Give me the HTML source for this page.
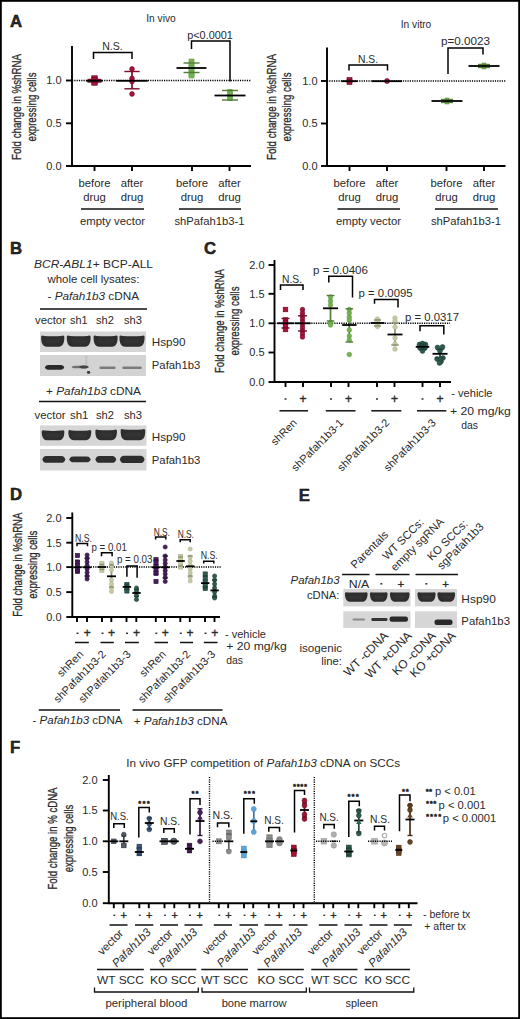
<!DOCTYPE html>
<html><head><meta charset="utf-8"><style>
html,body{margin:0;padding:0;background:#fff;}
body{width:520px;height:1019px;overflow:hidden;}
svg{display:block;}
text{font-family:"Liberation Sans", sans-serif;fill:#2a2a2a;}
text[font-weight="bold"]{stroke:#000;stroke-width:0.45;}
</style></head><body>
<svg width="520" height="1019" viewBox="0 0 520 1019">
<defs><filter id="bl" x="-20%" y="-50%" width="140%" height="200%"><feGaussianBlur stdDeviation="0.6"/></filter><filter id="bl2" x="-20%" y="-50%" width="140%" height="200%"><feGaussianBlur stdDeviation="1"/></filter></defs>
<rect x="0" y="0" width="520" height="1019" fill="#fff"/>
<text x="10.00" y="27.00" font-size="16.8" font-weight="bold" fill="#000">A</text>
<line x1="72.00" y1="46.00" x2="72.00" y2="166.95" stroke="#000" stroke-width="1.9"/>
<line x1="66.00" y1="80.50" x2="72.00" y2="80.50" stroke="#000" stroke-width="1.9"/>
<text x="61.50" y="84.40" font-size="11" text-anchor="end">1.0</text>
<line x1="66.00" y1="123.30" x2="72.00" y2="123.30" stroke="#000" stroke-width="1.9"/>
<text x="61.50" y="127.20" font-size="11" text-anchor="end">0.5</text>
<line x1="66.00" y1="166.00" x2="72.00" y2="166.00" stroke="#000" stroke-width="1.9"/>
<text x="61.50" y="169.90" font-size="11" text-anchor="end">0.0</text>
<line x1="72.00" y1="166.00" x2="251.00" y2="166.00" stroke="#000" stroke-width="1.9"/>
<line x1="94.50" y1="166.00" x2="94.50" y2="171.00" stroke="#000" stroke-width="1.9"/>
<line x1="132.00" y1="166.00" x2="132.00" y2="171.00" stroke="#000" stroke-width="1.9"/>
<line x1="192.00" y1="166.00" x2="192.00" y2="171.00" stroke="#000" stroke-width="1.9"/>
<line x1="229.50" y1="166.00" x2="229.50" y2="171.00" stroke="#000" stroke-width="1.9"/>
<text x="21.0" y="107" font-size="13" text-anchor="middle" textLength="106" lengthAdjust="spacingAndGlyphs" transform="rotate(-90 21.0 107)" stroke="#2a2a2a" stroke-width="0.3">Fold change in %shRNA</text>
<text x="35.8" y="107" font-size="13" text-anchor="middle" textLength="69" lengthAdjust="spacingAndGlyphs" transform="rotate(-90 35.8 107)" stroke="#2a2a2a" stroke-width="0.3">expressing cells</text>
<text x="161.00" y="21.50" font-size="10" text-anchor="middle" textLength="29.50" lengthAdjust="spacingAndGlyphs">In vivo</text>
<line x1="72.00" y1="80.50" x2="251.00" y2="80.50" stroke="#000" stroke-width="1.5" stroke-dasharray="1.2 1.1"/>
<path d="M93.50 59.00 V52.50 H132.00 V59.00" fill="none" stroke="#000" stroke-width="1.5"/>
<text x="112.50" y="49.50" font-size="10.5" text-anchor="middle" textLength="20.50" lengthAdjust="spacingAndGlyphs">N.S.</text>
<path d="M191.50 49.00 V41.00 H230.00 V81.50" fill="none" stroke="#000" stroke-width="1.5"/>
<text x="210.00" y="39.00" font-size="10.8" text-anchor="middle" textLength="45.50" lengthAdjust="spacingAndGlyphs">p&lt;0.0001</text>
<line x1="94.50" y1="79.50" x2="94.50" y2="82.00" stroke="#7b0c2a" stroke-width="1.7"/>
<rect x="91.75" y="75.75" width="5.50" height="5.50" fill="#b0123c" stroke="#600921" stroke-width="0.6"/>
<rect x="91.75" y="77.75" width="5.50" height="5.50" fill="#b0123c" stroke="#600921" stroke-width="0.6"/>
<rect x="91.75" y="79.75" width="5.50" height="5.50" fill="#b0123c" stroke="#600921" stroke-width="0.6"/>
<line x1="87.50" y1="79.50" x2="101.50" y2="79.50" stroke="#7b0c2a" stroke-width="1.4"/>
<line x1="87.50" y1="82.00" x2="101.50" y2="82.00" stroke="#7b0c2a" stroke-width="1.4"/>
<line x1="86.30" y1="80.80" x2="102.70" y2="80.80" stroke="#000" stroke-width="1.8"/>
<line x1="132.00" y1="71.50" x2="132.00" y2="88.80" stroke="#7b0c2a" stroke-width="1.7"/>
<circle cx="132.00" cy="69.00" r="2.40" fill="#b0123c" stroke="#600921" stroke-width="0.6"/>
<circle cx="132.00" cy="78.50" r="2.40" fill="#b0123c" stroke="#600921" stroke-width="0.6"/>
<circle cx="132.00" cy="81.50" r="2.40" fill="#b0123c" stroke="#600921" stroke-width="0.6"/>
<circle cx="132.00" cy="94.00" r="2.40" fill="#b0123c" stroke="#600921" stroke-width="0.6"/>
<line x1="124.40" y1="71.50" x2="139.60" y2="71.50" stroke="#7b0c2a" stroke-width="1.4"/>
<line x1="124.40" y1="88.80" x2="139.60" y2="88.80" stroke="#7b0c2a" stroke-width="1.4"/>
<line x1="116.20" y1="80.80" x2="147.80" y2="80.80" stroke="#000" stroke-width="1.8"/>
<line x1="191.50" y1="63.00" x2="191.50" y2="72.50" stroke="#517d38" stroke-width="1.7"/>
<rect x="189.00" y="59.00" width="5.00" height="5.00" fill="#74b450" stroke="#629944" stroke-width="0.6"/>
<rect x="189.00" y="62.00" width="5.00" height="5.00" fill="#74b450" stroke="#629944" stroke-width="0.6"/>
<rect x="189.00" y="65.00" width="5.00" height="5.00" fill="#74b450" stroke="#629944" stroke-width="0.6"/>
<rect x="189.00" y="68.00" width="5.00" height="5.00" fill="#74b450" stroke="#629944" stroke-width="0.6"/>
<rect x="189.00" y="71.00" width="5.00" height="5.00" fill="#74b450" stroke="#629944" stroke-width="0.6"/>
<rect x="189.00" y="73.00" width="5.00" height="5.00" fill="#74b450" stroke="#629944" stroke-width="0.6"/>
<line x1="183.50" y1="63.00" x2="199.50" y2="63.00" stroke="#517d38" stroke-width="1.4"/>
<line x1="183.50" y1="72.50" x2="199.50" y2="72.50" stroke="#517d38" stroke-width="1.4"/>
<line x1="176.50" y1="68.00" x2="206.50" y2="68.00" stroke="#000" stroke-width="1.8"/>
<line x1="230.00" y1="90.50" x2="230.00" y2="100.00" stroke="#517d38" stroke-width="1.7"/>
<rect x="227.80" y="89.30" width="4.40" height="4.40" fill="#74b450" stroke="#629944" stroke-width="0.6"/>
<rect x="227.80" y="91.80" width="4.40" height="4.40" fill="#74b450" stroke="#629944" stroke-width="0.6"/>
<rect x="227.80" y="94.30" width="4.40" height="4.40" fill="#74b450" stroke="#629944" stroke-width="0.6"/>
<rect x="227.80" y="96.30" width="4.40" height="4.40" fill="#74b450" stroke="#629944" stroke-width="0.6"/>
<line x1="222.00" y1="90.50" x2="238.00" y2="90.50" stroke="#517d38" stroke-width="1.4"/>
<line x1="222.00" y1="100.00" x2="238.00" y2="100.00" stroke="#517d38" stroke-width="1.4"/>
<line x1="214.50" y1="95.50" x2="245.50" y2="95.50" stroke="#000" stroke-width="1.8"/>
<text x="94.50" y="187.00" font-size="11.3" text-anchor="middle">before</text>
<text x="94.50" y="200.80" font-size="11.3" text-anchor="middle">drug</text>
<text x="132.00" y="187.00" font-size="11.3" text-anchor="middle">after</text>
<text x="132.00" y="200.80" font-size="11.3" text-anchor="middle">drug</text>
<text x="192.00" y="187.00" font-size="11.3" text-anchor="middle">before</text>
<text x="192.00" y="200.80" font-size="11.3" text-anchor="middle">drug</text>
<text x="229.50" y="187.00" font-size="11.3" text-anchor="middle">after</text>
<text x="229.50" y="200.80" font-size="11.3" text-anchor="middle">drug</text>
<line x1="81.00" y1="209.00" x2="144.00" y2="209.00" stroke="#111" stroke-width="1.5"/>
<line x1="179.00" y1="209.00" x2="241.00" y2="209.00" stroke="#111" stroke-width="1.5"/>
<text x="112.50" y="224.50" font-size="11.3" text-anchor="middle" textLength="65.00" lengthAdjust="spacingAndGlyphs">empty vector</text>
<text x="209.50" y="224.50" font-size="11.3" text-anchor="middle" textLength="70.00" lengthAdjust="spacingAndGlyphs">shPafah1b3-1</text>
<line x1="327.00" y1="47.50" x2="327.00" y2="166.95" stroke="#000" stroke-width="1.9"/>
<line x1="321.00" y1="81.00" x2="327.00" y2="81.00" stroke="#000" stroke-width="1.9"/>
<text x="317.50" y="84.90" font-size="11" text-anchor="end">1.0</text>
<line x1="321.00" y1="123.50" x2="327.00" y2="123.50" stroke="#000" stroke-width="1.9"/>
<text x="317.50" y="127.40" font-size="11" text-anchor="end">0.5</text>
<line x1="321.00" y1="166.00" x2="327.00" y2="166.00" stroke="#000" stroke-width="1.9"/>
<text x="317.50" y="169.90" font-size="11" text-anchor="end">0.0</text>
<line x1="327.00" y1="166.00" x2="505.50" y2="166.00" stroke="#000" stroke-width="1.9"/>
<line x1="349.50" y1="166.00" x2="349.50" y2="171.00" stroke="#000" stroke-width="1.9"/>
<line x1="387.00" y1="166.00" x2="387.00" y2="171.00" stroke="#000" stroke-width="1.9"/>
<line x1="446.50" y1="166.00" x2="446.50" y2="171.00" stroke="#000" stroke-width="1.9"/>
<line x1="484.00" y1="166.00" x2="484.00" y2="171.00" stroke="#000" stroke-width="1.9"/>
<text x="276.0" y="107" font-size="13" text-anchor="middle" textLength="106" lengthAdjust="spacingAndGlyphs" transform="rotate(-90 276.0 107)" stroke="#2a2a2a" stroke-width="0.3">Fold change in %shRNA</text>
<text x="290.8" y="107" font-size="13" text-anchor="middle" textLength="69" lengthAdjust="spacingAndGlyphs" transform="rotate(-90 290.8 107)" stroke="#2a2a2a" stroke-width="0.3">expressing cells</text>
<text x="416.00" y="27.50" font-size="10" text-anchor="middle" textLength="30.50" lengthAdjust="spacingAndGlyphs">In vitro</text>
<line x1="327.00" y1="81.00" x2="506.00" y2="81.00" stroke="#000" stroke-width="1.5" stroke-dasharray="1.2 1.1"/>
<path d="M349.00 70.50 V65.00 H387.50 V70.50" fill="none" stroke="#000" stroke-width="1.5"/>
<text x="368.00" y="62.50" font-size="10.5" text-anchor="middle" textLength="20.00" lengthAdjust="spacingAndGlyphs">N.S.</text>
<path d="M448.00 74.00 V48.00 H483.00 V54.50" fill="none" stroke="#000" stroke-width="1.5"/>
<text x="465.50" y="45.00" font-size="10.8" text-anchor="middle" textLength="49.00" lengthAdjust="spacingAndGlyphs">p=0.0023</text>
<rect x="347.00" y="77.50" width="5.00" height="5.00" fill="#b0123c" stroke="#600921" stroke-width="0.6"/>
<rect x="347.00" y="79.50" width="5.00" height="5.00" fill="#b0123c" stroke="#600921" stroke-width="0.6"/>
<line x1="341.50" y1="81.20" x2="357.50" y2="81.20" stroke="#000" stroke-width="1.8"/>
<circle cx="387.00" cy="81.00" r="2.50" fill="#b0123c" stroke="#600921" stroke-width="0.6"/>
<line x1="372.00" y1="81.20" x2="402.00" y2="81.20" stroke="#000" stroke-width="1.8"/>
<line x1="447.00" y1="99.50" x2="447.00" y2="102.50" stroke="#517d38" stroke-width="1.7"/>
<rect x="445.00" y="98.00" width="4.00" height="4.00" fill="#74b450" stroke="#629944" stroke-width="0.6"/>
<rect x="445.00" y="100.00" width="4.00" height="4.00" fill="#74b450" stroke="#629944" stroke-width="0.6"/>
<line x1="441.00" y1="99.50" x2="453.00" y2="99.50" stroke="#517d38" stroke-width="1.4"/>
<line x1="441.00" y1="102.50" x2="453.00" y2="102.50" stroke="#517d38" stroke-width="1.4"/>
<line x1="431.50" y1="101.00" x2="462.50" y2="101.00" stroke="#000" stroke-width="1.8"/>
<line x1="484.00" y1="64.50" x2="484.00" y2="67.50" stroke="#517d38" stroke-width="1.7"/>
<rect x="482.00" y="63.00" width="4.00" height="4.00" fill="#74b450" stroke="#629944" stroke-width="0.6"/>
<rect x="482.00" y="65.00" width="4.00" height="4.00" fill="#74b450" stroke="#629944" stroke-width="0.6"/>
<line x1="478.00" y1="64.50" x2="490.00" y2="64.50" stroke="#517d38" stroke-width="1.4"/>
<line x1="478.00" y1="67.50" x2="490.00" y2="67.50" stroke="#517d38" stroke-width="1.4"/>
<line x1="468.50" y1="66.00" x2="499.50" y2="66.00" stroke="#000" stroke-width="1.8"/>
<text x="349.50" y="187.00" font-size="11.3" text-anchor="middle">before</text>
<text x="349.50" y="200.80" font-size="11.3" text-anchor="middle">drug</text>
<text x="387.00" y="187.00" font-size="11.3" text-anchor="middle">after</text>
<text x="387.00" y="200.80" font-size="11.3" text-anchor="middle">drug</text>
<text x="446.50" y="187.00" font-size="11.3" text-anchor="middle">before</text>
<text x="446.50" y="200.80" font-size="11.3" text-anchor="middle">drug</text>
<text x="484.00" y="187.00" font-size="11.3" text-anchor="middle">after</text>
<text x="484.00" y="200.80" font-size="11.3" text-anchor="middle">drug</text>
<line x1="337.50" y1="209.00" x2="400.00" y2="209.00" stroke="#111" stroke-width="1.5"/>
<line x1="435.00" y1="209.00" x2="498.00" y2="209.00" stroke="#111" stroke-width="1.5"/>
<text x="368.50" y="224.50" font-size="11.3" text-anchor="middle" textLength="65.00" lengthAdjust="spacingAndGlyphs">empty vector</text>
<text x="466.00" y="224.50" font-size="11.3" text-anchor="middle" textLength="70.00" lengthAdjust="spacingAndGlyphs">shPafah1b3-1</text>
<text x="10.00" y="254.00" font-size="16.8" font-weight="bold" fill="#000">B</text>
<text x="34" y="268.3" font-size="11.6" textLength="119" lengthAdjust="spacingAndGlyphs"><tspan font-style="italic">BCR-ABL1</tspan>+ BCP-ALL</text>
<text x="93.50" y="283.30" font-size="11.6" text-anchor="middle" textLength="92.00" lengthAdjust="spacingAndGlyphs">whole cell lysates:</text>
<text x="47.5" y="300.3" font-size="11.6" textLength="91.5" lengthAdjust="spacingAndGlyphs">- <tspan font-style="italic">Pafah1b3</tspan> cDNA</text>
<line x1="40.00" y1="309.00" x2="147.00" y2="309.00" stroke="#111" stroke-width="1.5"/>
<text x="50.50" y="324.30" font-size="11.6" text-anchor="middle" textLength="31.00" lengthAdjust="spacingAndGlyphs">vector</text>
<text x="78.80" y="324.30" font-size="11.6" text-anchor="middle" textLength="17.50" lengthAdjust="spacingAndGlyphs">sh1</text>
<text x="105.00" y="324.30" font-size="11.6" text-anchor="middle" textLength="18.00" lengthAdjust="spacingAndGlyphs">sh2</text>
<text x="133.00" y="324.30" font-size="11.6" text-anchor="middle" textLength="18.00" lengthAdjust="spacingAndGlyphs">sh3</text>
<text x="46" y="395.3" font-size="11.6" textLength="95" lengthAdjust="spacingAndGlyphs">+ <tspan font-style="italic">Pafah1b3</tspan> cDNA</text>
<line x1="39.00" y1="401.50" x2="146.00" y2="401.50" stroke="#111" stroke-width="1.5"/>
<text x="50.10" y="418.80" font-size="11.6" text-anchor="middle" textLength="31.00" lengthAdjust="spacingAndGlyphs">vector</text>
<text x="79.20" y="418.80" font-size="11.6" text-anchor="middle" textLength="18.50" lengthAdjust="spacingAndGlyphs">sh1</text>
<text x="105.00" y="418.80" font-size="11.6" text-anchor="middle" textLength="18.00" lengthAdjust="spacingAndGlyphs">sh2</text>
<text x="133.00" y="418.80" font-size="11.6" text-anchor="middle" textLength="18.00" lengthAdjust="spacingAndGlyphs">sh3</text>
<rect x="40.00" y="331.50" width="106.00" height="20.50" fill="#d6d6d6" />
<path d="M41.20 336.30 Q42.00 335.10 44.20 335.90 Q52.75 336.78 61.30 335.90 Q63.50 335.10 64.30 336.30 C64.70 343.20 62.50 346.70 58.80 346.70 L46.70 346.70 C43.00 346.70 40.80 343.20 41.20 336.30 Z" fill="#2e2e2e" filter="url(#bl)"/>
<rect x="45.20" y="339.42" width="15.10" height="3.36" rx="1.5" fill="#4a4a4a" opacity="0.3" filter="url(#bl2)"/>
<path d="M66.80 336.30 Q67.60 335.10 69.80 335.90 Q78.70 336.78 87.60 335.90 Q89.80 335.10 90.60 336.30 C91.00 343.20 88.80 346.70 85.10 346.70 L72.30 346.70 C68.60 346.70 66.40 343.20 66.80 336.30 Z" fill="#2e2e2e" filter="url(#bl)"/>
<rect x="70.80" y="339.42" width="15.80" height="3.36" rx="1.5" fill="#4a4a4a" opacity="0.3" filter="url(#bl2)"/>
<path d="M93.60 336.30 Q94.40 335.10 96.60 335.90 Q105.60 336.78 114.60 335.90 Q116.80 335.10 117.60 336.30 C118.00 343.20 115.80 346.70 112.10 346.70 L99.10 346.70 C95.40 346.70 93.20 343.20 93.60 336.30 Z" fill="#2e2e2e" filter="url(#bl)"/>
<rect x="97.60" y="339.42" width="16.00" height="3.36" rx="1.5" fill="#4a4a4a" opacity="0.3" filter="url(#bl2)"/>
<path d="M119.50 336.30 Q120.30 335.10 122.50 335.90 Q132.00 336.78 141.50 335.90 Q143.70 335.10 144.50 336.30 C144.90 343.20 142.70 346.70 139.00 346.70 L125.00 346.70 C121.30 346.70 119.10 343.20 119.50 336.30 Z" fill="#2e2e2e" filter="url(#bl)"/>
<rect x="123.50" y="339.42" width="17.00" height="3.36" rx="1.5" fill="#4a4a4a" opacity="0.3" filter="url(#bl2)"/>
<rect x="40.00" y="355.00" width="106.00" height="21.00" fill="#d3d3d3" />
<path d="M44.80 367.40 C45.80 365.10 47.80 365.10 49.80 365.10 L59.30 365.10 C61.30 365.10 63.30 365.10 64.30 367.40 C63.30 369.70 61.30 369.70 59.30 369.70 L49.80 369.70 C47.80 369.70 45.80 369.70 44.80 367.40 Z" fill="#2a2a2a" opacity="1" filter="url(#bl)"/>
<rect x="85.2" y="355.5" width="2.2" height="10" fill="#b8b8b8" opacity="0.6" filter="url(#bl)"/>
<path d="M71.60 367.00 C72.60 365.70 74.60 365.70 76.60 365.70 L83.00 365.70 C85.00 365.70 87.00 365.70 88.00 367.00 C87.00 368.30 85.00 368.30 83.00 368.30 L76.60 368.30 C74.60 368.30 72.60 368.30 71.60 367.00 Z" fill="#707070" opacity="1" filter="url(#bl)"/>
<path d="M79.00 367.00 C80.00 365.50 82.00 365.50 84.00 365.50 L84.00 365.50 C86.00 365.50 88.00 365.50 89.00 367.00 C88.00 368.50 86.00 368.50 84.00 368.50 L84.00 368.50 C82.00 368.50 80.00 368.50 79.00 367.00 Z" fill="#444" opacity="1" filter="url(#bl)"/>
<ellipse cx="88.6" cy="372.4" rx="1.7" ry="1.3" fill="#333" filter="url(#bl)"/>
<rect x="99.40" y="366.60" width="16.20" height="2.40" rx="1.09" fill="#666" opacity="0.8" filter="url(#bl)"/>
<rect x="122.30" y="366.60" width="19.50" height="2.40" rx="1.09" fill="#666" opacity="0.8" filter="url(#bl)"/>
<rect x="40.00" y="425.40" width="106.50" height="20.40" fill="#d6d6d6" />
<path d="M41.80 431.00 Q42.60 429.80 44.80 430.60 Q53.05 431.48 61.30 430.60 Q63.50 429.80 64.30 431.00 C64.70 436.80 62.50 440.30 58.80 440.30 L47.30 440.30 C43.60 440.30 41.40 436.80 41.80 431.00 Z" fill="#2e2e2e" filter="url(#bl)"/>
<rect x="45.80" y="433.74" width="14.50" height="3.03" rx="1.5" fill="#4a4a4a" opacity="0.3" filter="url(#bl2)"/>
<path d="M68.40 430.80 Q69.20 429.60 71.40 430.40 Q79.80 431.28 88.20 430.40 Q90.40 429.60 91.20 430.80 C91.60 436.80 89.40 440.30 85.70 440.30 L73.90 440.30 C70.20 440.30 68.00 436.80 68.40 430.80 Z" fill="#2e2e2e" filter="url(#bl)"/>
<rect x="72.40" y="433.61" width="14.80" height="3.09" rx="1.5" fill="#4a4a4a" opacity="0.3" filter="url(#bl2)"/>
<path d="M95.40 430.30 Q96.20 429.10 98.40 429.90 Q106.15 430.78 113.90 429.90 Q116.10 429.10 116.90 430.30 C117.30 436.80 115.10 440.30 111.40 440.30 L100.90 440.30 C97.20 440.30 95.00 436.80 95.40 430.30 Z" fill="#2e2e2e" filter="url(#bl)"/>
<rect x="99.40" y="433.28" width="13.50" height="3.24" rx="1.5" fill="#4a4a4a" opacity="0.3" filter="url(#bl2)"/>
<path d="M120.70 429.80 Q121.50 428.60 123.70 429.40 Q132.95 430.28 142.20 429.40 Q144.40 428.60 145.20 429.80 C145.60 436.80 143.40 440.30 139.70 440.30 L126.20 440.30 C122.50 440.30 120.30 436.80 120.70 429.80 Z" fill="#2e2e2e" filter="url(#bl)"/>
<rect x="124.70" y="432.95" width="16.50" height="3.39" rx="1.5" fill="#4a4a4a" opacity="0.3" filter="url(#bl2)"/>
<rect x="40.00" y="449.00" width="106.50" height="21.50" fill="#d6d6d6" />
<path d="M42.40 459.40 C43.40 456.00 45.40 456.00 47.40 456.00 L60.30 456.00 C62.30 456.00 64.30 456.00 65.30 459.40 C64.30 462.80 62.30 462.80 60.30 462.80 L47.40 462.80 C45.40 462.80 43.40 462.80 42.40 459.40 Z" fill="#2f2f2f" opacity="1" filter="url(#bl)"/>
<path d="M69.30 459.40 C70.30 456.60 72.30 456.60 74.30 456.60 L85.60 456.60 C87.60 456.60 89.60 456.60 90.60 459.40 C89.60 462.20 87.60 462.20 85.60 462.20 L74.30 462.20 C72.30 462.20 70.30 462.20 69.30 459.40 Z" fill="#2f2f2f" opacity="1" filter="url(#bl)"/>
<path d="M95.40 459.40 C96.40 456.10 98.40 456.10 100.40 456.10 L111.20 456.10 C113.20 456.10 115.20 456.10 116.20 459.40 C115.20 462.70 113.20 462.70 111.20 462.70 L100.40 462.70 C98.40 462.70 96.40 462.70 95.40 459.40 Z" fill="#2f2f2f" opacity="1" filter="url(#bl)"/>
<path d="M119.90 459.40 C120.90 455.80 122.90 455.80 124.90 455.80 L139.50 455.80 C141.50 455.80 143.50 455.80 144.50 459.40 C143.50 463.00 141.50 463.00 139.50 463.00 L124.90 463.00 C122.90 463.00 120.90 463.00 119.90 459.40 Z" fill="#2f2f2f" opacity="1" filter="url(#bl)"/>
<text x="151.80" y="345.60" font-size="11.6" textLength="33.80" lengthAdjust="spacingAndGlyphs">Hsp90</text>
<text x="151.80" y="369.10" font-size="11.6" textLength="48.50" lengthAdjust="spacingAndGlyphs">Pafah1b3</text>
<text x="151.80" y="441.20" font-size="11.6" textLength="33.80" lengthAdjust="spacingAndGlyphs">Hsp90</text>
<text x="151.80" y="464.00" font-size="11.6" textLength="48.50" lengthAdjust="spacingAndGlyphs">Pafah1b3</text>
<text x="204.00" y="254.00" font-size="16.8" font-weight="bold" fill="#000">C</text>
<line x1="274.50" y1="260.00" x2="274.50" y2="382.95" stroke="#000" stroke-width="1.9"/>
<line x1="268.50" y1="265.00" x2="274.50" y2="265.00" stroke="#000" stroke-width="1.9"/>
<text x="264.50" y="268.90" font-size="11" text-anchor="end">2.0</text>
<line x1="268.50" y1="293.80" x2="274.50" y2="293.80" stroke="#000" stroke-width="1.9"/>
<text x="264.50" y="297.70" font-size="11" text-anchor="end">1.5</text>
<line x1="268.50" y1="323.30" x2="274.50" y2="323.30" stroke="#000" stroke-width="1.9"/>
<text x="264.50" y="327.20" font-size="11" text-anchor="end">1.0</text>
<line x1="268.50" y1="352.50" x2="274.50" y2="352.50" stroke="#000" stroke-width="1.9"/>
<text x="264.50" y="356.40" font-size="11" text-anchor="end">0.5</text>
<line x1="268.50" y1="382.00" x2="274.50" y2="382.00" stroke="#000" stroke-width="1.9"/>
<text x="264.50" y="385.90" font-size="11" text-anchor="end">0.0</text>
<line x1="274.50" y1="382.00" x2="451.00" y2="382.00" stroke="#000" stroke-width="1.9"/>
<line x1="285.50" y1="382.00" x2="285.50" y2="387.00" stroke="#000" stroke-width="1.9"/>
<line x1="303.00" y1="382.00" x2="303.00" y2="387.00" stroke="#000" stroke-width="1.9"/>
<line x1="331.00" y1="382.00" x2="331.00" y2="387.00" stroke="#000" stroke-width="1.9"/>
<line x1="348.50" y1="382.00" x2="348.50" y2="387.00" stroke="#000" stroke-width="1.9"/>
<line x1="377.00" y1="382.00" x2="377.00" y2="387.00" stroke="#000" stroke-width="1.9"/>
<line x1="394.50" y1="382.00" x2="394.50" y2="387.00" stroke="#000" stroke-width="1.9"/>
<line x1="422.50" y1="382.00" x2="422.50" y2="387.00" stroke="#000" stroke-width="1.9"/>
<line x1="440.00" y1="382.00" x2="440.00" y2="387.00" stroke="#000" stroke-width="1.9"/>
<text x="223.5" y="321" font-size="13" text-anchor="middle" textLength="104" lengthAdjust="spacingAndGlyphs" transform="rotate(-90 223.5 321)" stroke="#2a2a2a" stroke-width="0.3">Fold change in %shRNA</text>
<text x="238.8" y="321" font-size="13" text-anchor="middle" textLength="69" lengthAdjust="spacingAndGlyphs" transform="rotate(-90 238.8 321)" stroke="#2a2a2a" stroke-width="0.3">expressing cells</text>
<line x1="274.50" y1="323.30" x2="450.00" y2="323.30" stroke="#000" stroke-width="1.5" stroke-dasharray="1.2 1.1"/>
<path d="M280.50 290.00 V285.00 H303.00 V290.00" fill="none" stroke="#000" stroke-width="1.5"/>
<text x="292.00" y="282.50" font-size="10.5" text-anchor="middle" textLength="20.00" lengthAdjust="spacingAndGlyphs">N.S.</text>
<path d="M328.80 282.50 V276.30 H352.50 V297.50" fill="none" stroke="#000" stroke-width="1.5"/>
<text x="340.50" y="274.30" font-size="10.8" text-anchor="middle" textLength="55.00" lengthAdjust="spacingAndGlyphs">p = 0.0406</text>
<path d="M374.50 303.80 V299.50 H398.00 V307.50" fill="none" stroke="#000" stroke-width="1.5"/>
<text x="385.60" y="297.00" font-size="10.8" text-anchor="middle" textLength="54.00" lengthAdjust="spacingAndGlyphs">p = 0.0095</text>
<path d="M420.00 331.30 V325.80 H443.80 V334.50" fill="none" stroke="#000" stroke-width="1.5"/>
<text x="432.00" y="321.30" font-size="10.8" text-anchor="middle" textLength="54.00" lengthAdjust="spacingAndGlyphs">p = 0.0317</text>
<line x1="285.50" y1="318.50" x2="285.50" y2="328.00" stroke="#7b0c2a" stroke-width="1.7"/>
<rect x="283.20" y="307.20" width="4.60" height="4.60" fill="#b0123c" stroke="#600921" stroke-width="0.6"/>
<rect x="283.20" y="317.70" width="4.60" height="4.60" fill="#b0123c" stroke="#600921" stroke-width="0.6"/>
<rect x="283.20" y="320.70" width="4.60" height="4.60" fill="#b0123c" stroke="#600921" stroke-width="0.6"/>
<rect x="283.20" y="323.70" width="4.60" height="4.60" fill="#b0123c" stroke="#600921" stroke-width="0.6"/>
<rect x="283.20" y="327.20" width="4.60" height="4.60" fill="#b0123c" stroke="#600921" stroke-width="0.6"/>
<line x1="281.50" y1="318.50" x2="289.50" y2="318.50" stroke="#7b0c2a" stroke-width="1.4"/>
<line x1="281.50" y1="328.00" x2="289.50" y2="328.00" stroke="#7b0c2a" stroke-width="1.4"/>
<line x1="277.50" y1="323.30" x2="293.50" y2="323.30" stroke="#000" stroke-width="1.8"/>
<line x1="302.50" y1="315.80" x2="302.50" y2="331.00" stroke="#7b0c2a" stroke-width="1.7"/>
<circle cx="302.50" cy="309.50" r="2.30" fill="#b0123c" stroke="#600921" stroke-width="0.6"/>
<circle cx="302.50" cy="313.00" r="2.30" fill="#b0123c" stroke="#600921" stroke-width="0.6"/>
<circle cx="302.50" cy="316.00" r="2.30" fill="#b0123c" stroke="#600921" stroke-width="0.6"/>
<circle cx="302.50" cy="319.00" r="2.30" fill="#b0123c" stroke="#600921" stroke-width="0.6"/>
<circle cx="302.50" cy="322.00" r="2.30" fill="#b0123c" stroke="#600921" stroke-width="0.6"/>
<circle cx="302.50" cy="325.00" r="2.30" fill="#b0123c" stroke="#600921" stroke-width="0.6"/>
<circle cx="302.50" cy="328.00" r="2.30" fill="#b0123c" stroke="#600921" stroke-width="0.6"/>
<circle cx="302.50" cy="331.00" r="2.30" fill="#b0123c" stroke="#600921" stroke-width="0.6"/>
<circle cx="302.50" cy="334.00" r="2.30" fill="#b0123c" stroke="#600921" stroke-width="0.6"/>
<circle cx="302.50" cy="337.00" r="2.30" fill="#b0123c" stroke="#600921" stroke-width="0.6"/>
<line x1="298.00" y1="315.80" x2="307.00" y2="315.80" stroke="#7b0c2a" stroke-width="1.4"/>
<line x1="298.00" y1="331.00" x2="307.00" y2="331.00" stroke="#7b0c2a" stroke-width="1.4"/>
<line x1="294.50" y1="323.30" x2="310.50" y2="323.30" stroke="#000" stroke-width="1.8"/>
<line x1="330.50" y1="295.50" x2="330.50" y2="321.00" stroke="#517d38" stroke-width="1.7"/>
<circle cx="330.50" cy="297.00" r="2.30" fill="#74b450" stroke="#629944" stroke-width="0.6"/>
<circle cx="330.50" cy="301.00" r="2.30" fill="#74b450" stroke="#629944" stroke-width="0.6"/>
<circle cx="330.50" cy="305.00" r="2.30" fill="#74b450" stroke="#629944" stroke-width="0.6"/>
<circle cx="330.50" cy="322.50" r="2.30" fill="#74b450" stroke="#629944" stroke-width="0.6"/>
<circle cx="330.50" cy="325.00" r="2.30" fill="#74b450" stroke="#629944" stroke-width="0.6"/>
<line x1="326.70" y1="295.50" x2="334.30" y2="295.50" stroke="#517d38" stroke-width="1.4"/>
<line x1="326.70" y1="321.00" x2="334.30" y2="321.00" stroke="#517d38" stroke-width="1.4"/>
<line x1="323.00" y1="308.30" x2="338.00" y2="308.30" stroke="#000" stroke-width="1.8"/>
<line x1="349.30" y1="308.80" x2="349.30" y2="342.00" stroke="#517d38" stroke-width="1.7"/>
<circle cx="349.30" cy="309.50" r="2.30" fill="#74b450" stroke="#629944" stroke-width="0.6"/>
<circle cx="349.30" cy="313.00" r="2.30" fill="#74b450" stroke="#629944" stroke-width="0.6"/>
<circle cx="349.30" cy="317.00" r="2.30" fill="#74b450" stroke="#629944" stroke-width="0.6"/>
<circle cx="349.30" cy="320.00" r="2.30" fill="#74b450" stroke="#629944" stroke-width="0.6"/>
<circle cx="349.30" cy="330.00" r="2.30" fill="#74b450" stroke="#629944" stroke-width="0.6"/>
<circle cx="349.30" cy="336.00" r="2.30" fill="#74b450" stroke="#629944" stroke-width="0.6"/>
<circle cx="349.30" cy="340.00" r="2.30" fill="#74b450" stroke="#629944" stroke-width="0.6"/>
<circle cx="349.30" cy="354.50" r="2.30" fill="#74b450" stroke="#629944" stroke-width="0.6"/>
<line x1="345.50" y1="308.80" x2="353.10" y2="308.80" stroke="#517d38" stroke-width="1.4"/>
<line x1="345.50" y1="342.00" x2="353.10" y2="342.00" stroke="#517d38" stroke-width="1.4"/>
<line x1="342.10" y1="325.00" x2="356.50" y2="325.00" stroke="#000" stroke-width="1.8"/>
<line x1="377.50" y1="320.00" x2="377.50" y2="326.00" stroke="#8a8e72" stroke-width="1.7"/>
<circle cx="377.50" cy="319.00" r="2.30" fill="#c6cba3" stroke="#b2b692" stroke-width="0.6"/>
<circle cx="377.50" cy="321.50" r="2.30" fill="#c6cba3" stroke="#b2b692" stroke-width="0.6"/>
<circle cx="377.50" cy="324.00" r="2.30" fill="#c6cba3" stroke="#b2b692" stroke-width="0.6"/>
<circle cx="377.50" cy="326.50" r="2.30" fill="#c6cba3" stroke="#b2b692" stroke-width="0.6"/>
<line x1="374.00" y1="320.00" x2="381.00" y2="320.00" stroke="#8a8e72" stroke-width="1.4"/>
<line x1="374.00" y1="326.00" x2="381.00" y2="326.00" stroke="#8a8e72" stroke-width="1.4"/>
<line x1="370.50" y1="323.00" x2="384.50" y2="323.00" stroke="#000" stroke-width="1.8"/>
<line x1="395.00" y1="323.00" x2="395.00" y2="345.00" stroke="#8a8e72" stroke-width="1.7"/>
<circle cx="395.00" cy="318.00" r="2.30" fill="#c6cba3" stroke="#b2b692" stroke-width="0.6"/>
<circle cx="395.00" cy="321.00" r="2.30" fill="#c6cba3" stroke="#b2b692" stroke-width="0.6"/>
<circle cx="395.00" cy="327.00" r="2.30" fill="#c6cba3" stroke="#b2b692" stroke-width="0.6"/>
<circle cx="395.00" cy="338.00" r="2.30" fill="#c6cba3" stroke="#b2b692" stroke-width="0.6"/>
<circle cx="395.00" cy="344.00" r="2.30" fill="#c6cba3" stroke="#b2b692" stroke-width="0.6"/>
<circle cx="395.00" cy="349.00" r="2.30" fill="#c6cba3" stroke="#b2b692" stroke-width="0.6"/>
<line x1="391.20" y1="323.00" x2="398.80" y2="323.00" stroke="#8a8e72" stroke-width="1.4"/>
<line x1="391.20" y1="345.00" x2="398.80" y2="345.00" stroke="#8a8e72" stroke-width="1.4"/>
<line x1="387.50" y1="334.50" x2="402.50" y2="334.50" stroke="#000" stroke-width="1.8"/>
<line x1="422.50" y1="344.00" x2="422.50" y2="349.50" stroke="#204239" stroke-width="1.7"/>
<circle cx="419.50" cy="344.50" r="2.40" fill="#2f5f52" stroke="#19342d" stroke-width="0.6"/>
<circle cx="422.50" cy="343.50" r="2.40" fill="#2f5f52" stroke="#19342d" stroke-width="0.6"/>
<circle cx="425.50" cy="344.50" r="2.40" fill="#2f5f52" stroke="#19342d" stroke-width="0.6"/>
<circle cx="420.00" cy="348.00" r="2.40" fill="#2f5f52" stroke="#19342d" stroke-width="0.6"/>
<circle cx="425.00" cy="348.00" r="2.40" fill="#2f5f52" stroke="#19342d" stroke-width="0.6"/>
<circle cx="422.50" cy="351.00" r="2.40" fill="#2f5f52" stroke="#19342d" stroke-width="0.6"/>
<line x1="419.00" y1="344.00" x2="426.00" y2="344.00" stroke="#204239" stroke-width="1.4"/>
<line x1="419.00" y1="349.50" x2="426.00" y2="349.50" stroke="#204239" stroke-width="1.4"/>
<line x1="415.70" y1="346.80" x2="429.30" y2="346.80" stroke="#000" stroke-width="1.8"/>
<line x1="440.00" y1="349.50" x2="440.00" y2="358.00" stroke="#204239" stroke-width="1.7"/>
<circle cx="437.50" cy="347.50" r="2.40" fill="#2f5f52" stroke="#19342d" stroke-width="0.6"/>
<circle cx="442.50" cy="347.00" r="2.40" fill="#2f5f52" stroke="#19342d" stroke-width="0.6"/>
<circle cx="440.00" cy="351.00" r="2.40" fill="#2f5f52" stroke="#19342d" stroke-width="0.6"/>
<circle cx="437.00" cy="359.00" r="2.40" fill="#2f5f52" stroke="#19342d" stroke-width="0.6"/>
<circle cx="441.00" cy="361.50" r="2.40" fill="#2f5f52" stroke="#19342d" stroke-width="0.6"/>
<circle cx="443.00" cy="358.00" r="2.40" fill="#2f5f52" stroke="#19342d" stroke-width="0.6"/>
<circle cx="439.50" cy="363.00" r="2.40" fill="#2f5f52" stroke="#19342d" stroke-width="0.6"/>
<line x1="436.20" y1="349.50" x2="443.80" y2="349.50" stroke="#204239" stroke-width="1.4"/>
<line x1="436.20" y1="358.00" x2="443.80" y2="358.00" stroke="#204239" stroke-width="1.4"/>
<line x1="432.50" y1="353.80" x2="447.50" y2="353.80" stroke="#000" stroke-width="1.8"/>
<rect x="284.50" y="398.25" width="2.00" height="1.50" fill="#333" />
<text x="303.00" y="403.08" font-size="12" text-anchor="middle" stroke="#2a2a2a" stroke-width="0.35">+</text>
<rect x="330.00" y="398.25" width="2.00" height="1.50" fill="#333" />
<text x="348.50" y="403.08" font-size="12" text-anchor="middle" stroke="#2a2a2a" stroke-width="0.35">+</text>
<rect x="376.00" y="398.25" width="2.00" height="1.50" fill="#333" />
<text x="394.50" y="403.08" font-size="12" text-anchor="middle" stroke="#2a2a2a" stroke-width="0.35">+</text>
<rect x="421.50" y="398.25" width="2.00" height="1.50" fill="#333" />
<text x="440.00" y="403.08" font-size="12" text-anchor="middle" stroke="#2a2a2a" stroke-width="0.35">+</text>
<line x1="279.50" y1="410.80" x2="308.00" y2="410.80" stroke="#111" stroke-width="1.5"/>
<line x1="325.80" y1="410.80" x2="355.50" y2="410.80" stroke="#111" stroke-width="1.5"/>
<line x1="371.30" y1="410.80" x2="401.30" y2="410.80" stroke="#111" stroke-width="1.5"/>
<line x1="417.00" y1="410.80" x2="446.30" y2="410.80" stroke="#111" stroke-width="1.5"/>
<text x="451.30" y="397.00" font-size="11" textLength="41.20" lengthAdjust="spacingAndGlyphs">- vehicle</text>
<text x="450.00" y="415.20" font-size="11" textLength="60.80" lengthAdjust="spacingAndGlyphs">+ 20 mg/kg</text>
<text x="461.30" y="429.20" font-size="11" textLength="16.70" lengthAdjust="spacingAndGlyphs">das</text>
<text x="297.70" y="423.50" font-size="11" text-anchor="end" transform="rotate(-45 297.70 423.50)">shRen</text>
<text x="344.20" y="423.50" font-size="11" text-anchor="end" transform="rotate(-45 344.20 423.50)">shPafah1b3-1</text>
<text x="390.20" y="423.50" font-size="11" text-anchor="end" transform="rotate(-45 390.20 423.50)">shPafah1b3-2</text>
<text x="436.70" y="423.50" font-size="11" text-anchor="end" transform="rotate(-45 436.70 423.50)">shPafah1b3-3</text>
<text x="10.00" y="500.00" font-size="16.8" font-weight="bold" fill="#000">D</text>
<line x1="72.30" y1="512.50" x2="72.30" y2="617.95" stroke="#000" stroke-width="1.9"/>
<line x1="66.30" y1="518.00" x2="72.30" y2="518.00" stroke="#000" stroke-width="1.9"/>
<text x="61.50" y="521.90" font-size="11" text-anchor="end">2.0</text>
<line x1="66.30" y1="542.70" x2="72.30" y2="542.70" stroke="#000" stroke-width="1.9"/>
<text x="61.50" y="546.60" font-size="11" text-anchor="end">1.5</text>
<line x1="66.30" y1="567.10" x2="72.30" y2="567.10" stroke="#000" stroke-width="1.9"/>
<text x="61.50" y="571.00" font-size="11" text-anchor="end">1.0</text>
<line x1="66.30" y1="592.10" x2="72.30" y2="592.10" stroke="#000" stroke-width="1.9"/>
<text x="61.50" y="596.00" font-size="11" text-anchor="end">0.5</text>
<line x1="66.30" y1="617.00" x2="72.30" y2="617.00" stroke="#000" stroke-width="1.9"/>
<text x="61.50" y="620.90" font-size="11" text-anchor="end">0.0</text>
<line x1="72.30" y1="617.00" x2="220.00" y2="617.00" stroke="#000" stroke-width="1.9"/>
<line x1="77.00" y1="617.00" x2="77.00" y2="622.00" stroke="#000" stroke-width="1.9"/>
<line x1="87.00" y1="617.00" x2="87.00" y2="622.00" stroke="#000" stroke-width="1.9"/>
<line x1="102.00" y1="617.00" x2="102.00" y2="622.00" stroke="#000" stroke-width="1.9"/>
<line x1="111.30" y1="617.00" x2="111.30" y2="622.00" stroke="#000" stroke-width="1.9"/>
<line x1="126.50" y1="617.00" x2="126.50" y2="622.00" stroke="#000" stroke-width="1.9"/>
<line x1="136.30" y1="617.00" x2="136.30" y2="622.00" stroke="#000" stroke-width="1.9"/>
<line x1="155.80" y1="617.00" x2="155.80" y2="622.00" stroke="#000" stroke-width="1.9"/>
<line x1="165.00" y1="617.00" x2="165.00" y2="622.00" stroke="#000" stroke-width="1.9"/>
<line x1="180.30" y1="617.00" x2="180.30" y2="622.00" stroke="#000" stroke-width="1.9"/>
<line x1="189.80" y1="617.00" x2="189.80" y2="622.00" stroke="#000" stroke-width="1.9"/>
<line x1="205.00" y1="617.00" x2="205.00" y2="622.00" stroke="#000" stroke-width="1.9"/>
<line x1="214.50" y1="617.00" x2="214.50" y2="622.00" stroke="#000" stroke-width="1.9"/>
<text x="22.5" y="564.7" font-size="13" text-anchor="middle" textLength="104" lengthAdjust="spacingAndGlyphs" transform="rotate(-90 22.5 564.7)" stroke="#2a2a2a" stroke-width="0.3">Fold change in %shRNA</text>
<text x="37.5" y="564.7" font-size="13" text-anchor="middle" textLength="68" lengthAdjust="spacingAndGlyphs" transform="rotate(-90 37.5 564.7)" stroke="#2a2a2a" stroke-width="0.3">expressing cells</text>
<line x1="72.30" y1="567.10" x2="221.00" y2="567.10" stroke="#000" stroke-width="1.5" stroke-dasharray="1.2 1.1"/>
<path d="M77.00 546.20 V543.50 H87.50 V546.20" fill="none" stroke="#000" stroke-width="1.5"/>
<text x="83.50" y="541.50" font-size="10.5" text-anchor="middle" textLength="17.00" lengthAdjust="spacingAndGlyphs">N.S.</text>
<path d="M101.50 556.20 V552.70 H112.10 V556.20" fill="none" stroke="#000" stroke-width="1.5"/>
<text x="109.20" y="551.00" font-size="10.8" text-anchor="middle" textLength="35.40" lengthAdjust="spacingAndGlyphs">p = 0.01</text>
<path d="M126.90 576.70 V566.00 H137.10 V577.70" fill="none" stroke="#000" stroke-width="1.5"/>
<text x="134.70" y="563.00" font-size="10.8" text-anchor="middle" textLength="35.60" lengthAdjust="spacingAndGlyphs">p = 0.03</text>
<path d="M155.60 539.40 V537.00 H165.80 V539.40" fill="none" stroke="#000" stroke-width="1.5"/>
<text x="161.80" y="535.50" font-size="10.5" text-anchor="middle" textLength="16.30" lengthAdjust="spacingAndGlyphs">N.S.</text>
<path d="M180.20 542.20 V539.80 H190.20 V542.20" fill="none" stroke="#000" stroke-width="1.5"/>
<text x="185.80" y="538.30" font-size="10.5" text-anchor="middle" textLength="16.30" lengthAdjust="spacingAndGlyphs">N.S.</text>
<path d="M203.70 563.60 V561.20 H213.80 V563.60" fill="none" stroke="#000" stroke-width="1.5"/>
<text x="209.20" y="558.50" font-size="10.5" text-anchor="middle" textLength="17.00" lengthAdjust="spacingAndGlyphs">N.S.</text>
<line x1="77.50" y1="561.00" x2="77.50" y2="572.00" stroke="#331541" stroke-width="1.7"/>
<rect x="75.40" y="553.40" width="4.20" height="4.20" fill="#4a1e5e" stroke="#281033" stroke-width="0.6"/>
<rect x="75.40" y="559.90" width="4.20" height="4.20" fill="#4a1e5e" stroke="#281033" stroke-width="0.6"/>
<rect x="75.40" y="563.40" width="4.20" height="4.20" fill="#4a1e5e" stroke="#281033" stroke-width="0.6"/>
<rect x="75.40" y="566.90" width="4.20" height="4.20" fill="#4a1e5e" stroke="#281033" stroke-width="0.6"/>
<rect x="75.40" y="569.40" width="4.20" height="4.20" fill="#4a1e5e" stroke="#281033" stroke-width="0.6"/>
<line x1="75.00" y1="561.00" x2="80.00" y2="561.00" stroke="#331541" stroke-width="1.4"/>
<line x1="75.00" y1="572.00" x2="80.00" y2="572.00" stroke="#331541" stroke-width="1.4"/>
<line x1="73.30" y1="567.30" x2="81.70" y2="567.30" stroke="#000" stroke-width="1.8"/>
<line x1="87.10" y1="558.00" x2="87.10" y2="576.00" stroke="#331541" stroke-width="1.7"/>
<circle cx="87.10" cy="555.00" r="2.10" fill="#4a1e5e" stroke="#281033" stroke-width="0.6"/>
<circle cx="87.10" cy="558.50" r="2.10" fill="#4a1e5e" stroke="#281033" stroke-width="0.6"/>
<circle cx="87.10" cy="562.00" r="2.10" fill="#4a1e5e" stroke="#281033" stroke-width="0.6"/>
<circle cx="87.10" cy="565.50" r="2.10" fill="#4a1e5e" stroke="#281033" stroke-width="0.6"/>
<circle cx="87.10" cy="569.00" r="2.10" fill="#4a1e5e" stroke="#281033" stroke-width="0.6"/>
<circle cx="87.10" cy="572.50" r="2.10" fill="#4a1e5e" stroke="#281033" stroke-width="0.6"/>
<circle cx="87.10" cy="576.00" r="2.10" fill="#4a1e5e" stroke="#281033" stroke-width="0.6"/>
<circle cx="87.10" cy="579.00" r="2.10" fill="#4a1e5e" stroke="#281033" stroke-width="0.6"/>
<line x1="84.60" y1="558.00" x2="89.60" y2="558.00" stroke="#331541" stroke-width="1.4"/>
<line x1="84.60" y1="576.00" x2="89.60" y2="576.00" stroke="#331541" stroke-width="1.4"/>
<line x1="82.90" y1="567.30" x2="91.30" y2="567.30" stroke="#000" stroke-width="1.8"/>
<line x1="101.90" y1="564.50" x2="101.90" y2="569.50" stroke="#8a8e72" stroke-width="1.7"/>
<rect x="99.80" y="561.40" width="4.20" height="4.20" fill="#c6cba3" stroke="#b2b692" stroke-width="0.6"/>
<rect x="99.80" y="564.90" width="4.20" height="4.20" fill="#c6cba3" stroke="#b2b692" stroke-width="0.6"/>
<rect x="99.80" y="568.40" width="4.20" height="4.20" fill="#c6cba3" stroke="#b2b692" stroke-width="0.6"/>
<line x1="99.60" y1="564.50" x2="104.20" y2="564.50" stroke="#8a8e72" stroke-width="1.4"/>
<line x1="99.60" y1="569.50" x2="104.20" y2="569.50" stroke="#8a8e72" stroke-width="1.4"/>
<line x1="97.70" y1="567.00" x2="106.10" y2="567.00" stroke="#000" stroke-width="1.8"/>
<line x1="111.50" y1="565.00" x2="111.50" y2="587.00" stroke="#8a8e72" stroke-width="1.7"/>
<circle cx="111.50" cy="563.00" r="2.10" fill="#c6cba3" stroke="#b2b692" stroke-width="0.6"/>
<circle cx="111.50" cy="566.00" r="2.10" fill="#c6cba3" stroke="#b2b692" stroke-width="0.6"/>
<circle cx="111.50" cy="570.00" r="2.10" fill="#c6cba3" stroke="#b2b692" stroke-width="0.6"/>
<circle cx="111.50" cy="580.00" r="2.10" fill="#c6cba3" stroke="#b2b692" stroke-width="0.6"/>
<circle cx="111.50" cy="584.00" r="2.10" fill="#c6cba3" stroke="#b2b692" stroke-width="0.6"/>
<circle cx="111.50" cy="588.00" r="2.10" fill="#c6cba3" stroke="#b2b692" stroke-width="0.6"/>
<circle cx="111.50" cy="591.50" r="2.10" fill="#c6cba3" stroke="#b2b692" stroke-width="0.6"/>
<line x1="109.00" y1="565.00" x2="114.00" y2="565.00" stroke="#8a8e72" stroke-width="1.4"/>
<line x1="109.00" y1="587.00" x2="114.00" y2="587.00" stroke="#8a8e72" stroke-width="1.4"/>
<line x1="107.00" y1="576.30" x2="116.00" y2="576.30" stroke="#000" stroke-width="1.8"/>
<line x1="126.90" y1="584.50" x2="126.90" y2="589.50" stroke="#204239" stroke-width="1.7"/>
<rect x="124.80" y="582.40" width="4.20" height="4.20" fill="#2f5f52" stroke="#19342d" stroke-width="0.6"/>
<rect x="124.80" y="585.90" width="4.20" height="4.20" fill="#2f5f52" stroke="#19342d" stroke-width="0.6"/>
<rect x="124.80" y="588.90" width="4.20" height="4.20" fill="#2f5f52" stroke="#19342d" stroke-width="0.6"/>
<line x1="124.60" y1="584.50" x2="129.20" y2="584.50" stroke="#204239" stroke-width="1.4"/>
<line x1="124.60" y1="589.50" x2="129.20" y2="589.50" stroke="#204239" stroke-width="1.4"/>
<line x1="122.70" y1="586.90" x2="131.10" y2="586.90" stroke="#000" stroke-width="1.8"/>
<line x1="136.50" y1="589.50" x2="136.50" y2="596.50" stroke="#204239" stroke-width="1.7"/>
<circle cx="136.50" cy="588.00" r="2.10" fill="#2f5f52" stroke="#19342d" stroke-width="0.6"/>
<circle cx="136.50" cy="591.50" r="2.10" fill="#2f5f52" stroke="#19342d" stroke-width="0.6"/>
<circle cx="136.50" cy="595.50" r="2.10" fill="#2f5f52" stroke="#19342d" stroke-width="0.6"/>
<circle cx="136.50" cy="599.50" r="2.10" fill="#2f5f52" stroke="#19342d" stroke-width="0.6"/>
<line x1="134.00" y1="589.50" x2="139.00" y2="589.50" stroke="#204239" stroke-width="1.4"/>
<line x1="134.00" y1="596.50" x2="139.00" y2="596.50" stroke="#204239" stroke-width="1.4"/>
<line x1="132.30" y1="593.00" x2="140.70" y2="593.00" stroke="#000" stroke-width="1.8"/>
<line x1="156.00" y1="560.00" x2="156.00" y2="574.00" stroke="#331541" stroke-width="1.7"/>
<rect x="153.90" y="557.40" width="4.20" height="4.20" fill="#4a1e5e" stroke="#281033" stroke-width="0.6"/>
<rect x="153.90" y="560.90" width="4.20" height="4.20" fill="#4a1e5e" stroke="#281033" stroke-width="0.6"/>
<rect x="153.90" y="564.40" width="4.20" height="4.20" fill="#4a1e5e" stroke="#281033" stroke-width="0.6"/>
<rect x="153.90" y="567.90" width="4.20" height="4.20" fill="#4a1e5e" stroke="#281033" stroke-width="0.6"/>
<rect x="153.90" y="571.40" width="4.20" height="4.20" fill="#4a1e5e" stroke="#281033" stroke-width="0.6"/>
<rect x="153.90" y="579.40" width="4.20" height="4.20" fill="#4a1e5e" stroke="#281033" stroke-width="0.6"/>
<line x1="153.50" y1="560.00" x2="158.50" y2="560.00" stroke="#331541" stroke-width="1.4"/>
<line x1="153.50" y1="574.00" x2="158.50" y2="574.00" stroke="#331541" stroke-width="1.4"/>
<line x1="151.80" y1="567.30" x2="160.20" y2="567.30" stroke="#000" stroke-width="1.8"/>
<line x1="165.20" y1="556.00" x2="165.20" y2="578.00" stroke="#331541" stroke-width="1.7"/>
<circle cx="165.20" cy="547.00" r="2.10" fill="#4a1e5e" stroke="#281033" stroke-width="0.6"/>
<circle cx="165.20" cy="556.00" r="2.10" fill="#4a1e5e" stroke="#281033" stroke-width="0.6"/>
<circle cx="165.20" cy="560.00" r="2.10" fill="#4a1e5e" stroke="#281033" stroke-width="0.6"/>
<circle cx="165.20" cy="563.50" r="2.10" fill="#4a1e5e" stroke="#281033" stroke-width="0.6"/>
<circle cx="165.20" cy="567.00" r="2.10" fill="#4a1e5e" stroke="#281033" stroke-width="0.6"/>
<circle cx="165.20" cy="570.50" r="2.10" fill="#4a1e5e" stroke="#281033" stroke-width="0.6"/>
<circle cx="165.20" cy="574.00" r="2.10" fill="#4a1e5e" stroke="#281033" stroke-width="0.6"/>
<circle cx="165.20" cy="577.50" r="2.10" fill="#4a1e5e" stroke="#281033" stroke-width="0.6"/>
<circle cx="165.20" cy="581.50" r="2.10" fill="#4a1e5e" stroke="#281033" stroke-width="0.6"/>
<line x1="162.70" y1="556.00" x2="167.70" y2="556.00" stroke="#331541" stroke-width="1.4"/>
<line x1="162.70" y1="578.00" x2="167.70" y2="578.00" stroke="#331541" stroke-width="1.4"/>
<line x1="161.00" y1="567.30" x2="169.40" y2="567.30" stroke="#000" stroke-width="1.8"/>
<line x1="180.60" y1="557.00" x2="180.60" y2="566.00" stroke="#8a8e72" stroke-width="1.7"/>
<rect x="178.50" y="554.40" width="4.20" height="4.20" fill="#c6cba3" stroke="#b2b692" stroke-width="0.6"/>
<rect x="178.50" y="557.90" width="4.20" height="4.20" fill="#c6cba3" stroke="#b2b692" stroke-width="0.6"/>
<rect x="178.50" y="561.40" width="4.20" height="4.20" fill="#c6cba3" stroke="#b2b692" stroke-width="0.6"/>
<rect x="178.50" y="564.90" width="4.20" height="4.20" fill="#c6cba3" stroke="#b2b692" stroke-width="0.6"/>
<line x1="178.30" y1="557.00" x2="182.90" y2="557.00" stroke="#8a8e72" stroke-width="1.4"/>
<line x1="178.30" y1="566.00" x2="182.90" y2="566.00" stroke="#8a8e72" stroke-width="1.4"/>
<line x1="176.40" y1="561.00" x2="184.80" y2="561.00" stroke="#000" stroke-width="1.8"/>
<line x1="190.20" y1="556.00" x2="190.20" y2="576.00" stroke="#8a8e72" stroke-width="1.7"/>
<circle cx="190.20" cy="549.00" r="2.10" fill="#c6cba3" stroke="#b2b692" stroke-width="0.6"/>
<circle cx="190.20" cy="557.00" r="2.10" fill="#c6cba3" stroke="#b2b692" stroke-width="0.6"/>
<circle cx="190.20" cy="561.00" r="2.10" fill="#c6cba3" stroke="#b2b692" stroke-width="0.6"/>
<circle cx="190.20" cy="565.00" r="2.10" fill="#c6cba3" stroke="#b2b692" stroke-width="0.6"/>
<circle cx="190.20" cy="569.00" r="2.10" fill="#c6cba3" stroke="#b2b692" stroke-width="0.6"/>
<circle cx="190.20" cy="573.00" r="2.10" fill="#c6cba3" stroke="#b2b692" stroke-width="0.6"/>
<circle cx="190.20" cy="577.00" r="2.10" fill="#c6cba3" stroke="#b2b692" stroke-width="0.6"/>
<circle cx="190.20" cy="581.00" r="2.10" fill="#c6cba3" stroke="#b2b692" stroke-width="0.6"/>
<line x1="187.70" y1="556.00" x2="192.70" y2="556.00" stroke="#8a8e72" stroke-width="1.4"/>
<line x1="187.70" y1="576.00" x2="192.70" y2="576.00" stroke="#8a8e72" stroke-width="1.4"/>
<line x1="186.00" y1="566.30" x2="194.40" y2="566.30" stroke="#000" stroke-width="1.8"/>
<line x1="205.20" y1="576.00" x2="205.20" y2="588.00" stroke="#204239" stroke-width="1.7"/>
<rect x="203.10" y="571.90" width="4.20" height="4.20" fill="#2f5f52" stroke="#19342d" stroke-width="0.6"/>
<rect x="203.10" y="576.40" width="4.20" height="4.20" fill="#2f5f52" stroke="#19342d" stroke-width="0.6"/>
<rect x="203.10" y="579.90" width="4.20" height="4.20" fill="#2f5f52" stroke="#19342d" stroke-width="0.6"/>
<rect x="203.10" y="583.40" width="4.20" height="4.20" fill="#2f5f52" stroke="#19342d" stroke-width="0.6"/>
<rect x="203.10" y="586.40" width="4.20" height="4.20" fill="#2f5f52" stroke="#19342d" stroke-width="0.6"/>
<line x1="202.90" y1="576.00" x2="207.50" y2="576.00" stroke="#204239" stroke-width="1.4"/>
<line x1="202.90" y1="588.00" x2="207.50" y2="588.00" stroke="#204239" stroke-width="1.4"/>
<line x1="201.00" y1="583.10" x2="209.40" y2="583.10" stroke="#000" stroke-width="1.8"/>
<line x1="214.60" y1="580.00" x2="214.60" y2="597.00" stroke="#204239" stroke-width="1.7"/>
<circle cx="214.60" cy="576.00" r="2.10" fill="#2f5f52" stroke="#19342d" stroke-width="0.6"/>
<circle cx="214.60" cy="580.00" r="2.10" fill="#2f5f52" stroke="#19342d" stroke-width="0.6"/>
<circle cx="214.60" cy="584.00" r="2.10" fill="#2f5f52" stroke="#19342d" stroke-width="0.6"/>
<circle cx="214.60" cy="588.00" r="2.10" fill="#2f5f52" stroke="#19342d" stroke-width="0.6"/>
<circle cx="214.60" cy="592.00" r="2.10" fill="#2f5f52" stroke="#19342d" stroke-width="0.6"/>
<circle cx="214.60" cy="596.00" r="2.10" fill="#2f5f52" stroke="#19342d" stroke-width="0.6"/>
<circle cx="214.60" cy="598.00" r="2.10" fill="#2f5f52" stroke="#19342d" stroke-width="0.6"/>
<line x1="212.10" y1="580.00" x2="217.10" y2="580.00" stroke="#204239" stroke-width="1.4"/>
<line x1="212.10" y1="597.00" x2="217.10" y2="597.00" stroke="#204239" stroke-width="1.4"/>
<line x1="210.40" y1="590.40" x2="218.80" y2="590.40" stroke="#000" stroke-width="1.8"/>
<rect x="76.50" y="632.55" width="2.00" height="1.50" fill="#333" />
<text x="87.30" y="637.38" font-size="12" text-anchor="middle" stroke="#2a2a2a" stroke-width="0.35">+</text>
<rect x="101.50" y="632.55" width="2.00" height="1.50" fill="#333" />
<text x="111.60" y="637.38" font-size="12" text-anchor="middle" stroke="#2a2a2a" stroke-width="0.35">+</text>
<rect x="126.00" y="632.55" width="2.00" height="1.50" fill="#333" />
<text x="136.60" y="637.38" font-size="12" text-anchor="middle" stroke="#2a2a2a" stroke-width="0.35">+</text>
<rect x="155.30" y="632.55" width="2.00" height="1.50" fill="#333" />
<text x="165.30" y="637.38" font-size="12" text-anchor="middle" stroke="#2a2a2a" stroke-width="0.35">+</text>
<rect x="179.80" y="632.55" width="2.00" height="1.50" fill="#333" />
<text x="190.10" y="637.38" font-size="12" text-anchor="middle" stroke="#2a2a2a" stroke-width="0.35">+</text>
<rect x="204.50" y="632.55" width="2.00" height="1.50" fill="#333" />
<text x="214.80" y="637.38" font-size="12" text-anchor="middle" stroke="#2a2a2a" stroke-width="0.35">+</text>
<line x1="75.00" y1="642.50" x2="88.80" y2="642.50" stroke="#111" stroke-width="1.5"/>
<line x1="100.50" y1="642.50" x2="113.80" y2="642.50" stroke="#111" stroke-width="1.5"/>
<line x1="125.00" y1="642.50" x2="138.80" y2="642.50" stroke="#111" stroke-width="1.5"/>
<line x1="154.50" y1="642.50" x2="168.00" y2="642.50" stroke="#111" stroke-width="1.5"/>
<line x1="180.00" y1="642.50" x2="193.00" y2="642.50" stroke="#111" stroke-width="1.5"/>
<line x1="203.80" y1="642.50" x2="217.50" y2="642.50" stroke="#111" stroke-width="1.5"/>
<text x="225.00" y="637.50" font-size="11" textLength="41.00" lengthAdjust="spacingAndGlyphs">- vehicle</text>
<text x="226.30" y="649.50" font-size="11" textLength="60.50" lengthAdjust="spacingAndGlyphs">+ 20 mg/kg</text>
<text x="226.30" y="664.00" font-size="11" textLength="16.70" lengthAdjust="spacingAndGlyphs">das</text>
<text x="84.00" y="655.00" font-size="11" text-anchor="end" transform="rotate(-45 84.00 655.00)">shRen</text>
<text x="106.50" y="655.00" font-size="11" text-anchor="end" transform="rotate(-45 106.50 655.00)">shPafah1b3-2</text>
<text x="131.50" y="655.00" font-size="11" text-anchor="end" transform="rotate(-45 131.50 655.00)">shPafah1b3-3</text>
<text x="166.50" y="655.00" font-size="11" text-anchor="end" transform="rotate(-45 166.50 655.00)">shRen</text>
<text x="191.00" y="655.00" font-size="11" text-anchor="end" transform="rotate(-45 191.00 655.00)">shPafah1b3-2</text>
<text x="216.00" y="655.00" font-size="11" text-anchor="end" transform="rotate(-45 216.00 655.00)">shPafah1b3-3</text>
<line x1="38.80" y1="710.00" x2="120.00" y2="710.00" stroke="#111" stroke-width="1.5"/>
<line x1="132.50" y1="710.00" x2="222.50" y2="710.00" stroke="#111" stroke-width="1.5"/>
<text x="32.5" y="723.5" font-size="11.3" textLength="90" lengthAdjust="spacingAndGlyphs">- <tspan font-style="italic">Pafah1b3</tspan> cDNA</text>
<text x="133.8" y="724.5" font-size="11.3" textLength="93.7" lengthAdjust="spacingAndGlyphs">+ <tspan font-style="italic">Pafah1b3</tspan> cDNA</text>
<text x="298.80" y="500.50" font-size="16.8" font-weight="bold" fill="#000">E</text>
<text x="389.00" y="535.50" font-size="11.3" text-anchor="end" transform="rotate(-45 389.00 535.50)">Parentals</text>
<text x="424.50" y="523.00" font-size="11.3" text-anchor="end" transform="rotate(-45 424.50 523.00)">WT SCCs:</text>
<text x="444.50" y="522.50" font-size="11.3" text-anchor="end" transform="rotate(-45 444.50 522.50)">empty sgRNA</text>
<text x="468.50" y="524.50" font-size="11.3" text-anchor="end" transform="rotate(-45 468.50 524.50)">KO SCCs:</text>
<text x="484.50" y="527.50" font-size="11.3" text-anchor="end" transform="rotate(-45 484.50 527.50)">sgPafah1b3</text>
<line x1="342.00" y1="574.50" x2="369.50" y2="574.50" stroke="#111" stroke-width="1.5"/>
<line x1="375.50" y1="574.50" x2="409.50" y2="574.50" stroke="#111" stroke-width="1.5"/>
<line x1="415.50" y1="574.50" x2="458.00" y2="574.50" stroke="#111" stroke-width="1.5"/>
<text x="339.50" y="583.50" font-size="11.5" text-anchor="end" textLength="49.00" lengthAdjust="spacingAndGlyphs" font-style="italic">Pafah1b3</text>
<text x="339.50" y="598.50" font-size="11.5" text-anchor="end" textLength="32.50" lengthAdjust="spacingAndGlyphs">cDNA:</text>
<text x="359.00" y="587.50" font-size="11.3" text-anchor="middle" textLength="20.50" lengthAdjust="spacingAndGlyphs">N/A</text>
<rect x="380.30" y="583.05" width="2.00" height="1.50" fill="#333" />
<text x="400.80" y="587.71" font-size="11.5" text-anchor="middle" stroke="#2a2a2a" stroke-width="0.35">+</text>
<rect x="425.30" y="583.05" width="2.00" height="1.50" fill="#333" />
<text x="445.50" y="587.71" font-size="11.5" text-anchor="middle" stroke="#2a2a2a" stroke-width="0.35">+</text>
<rect x="343.30" y="589.00" width="67.20" height="17.40" fill="#d6d6d6" />
<rect x="415.00" y="589.00" width="42.00" height="17.40" fill="#d6d6d6" />
<path d="M345.00 593.00 Q345.80 591.80 348.00 592.60 Q356.25 592.52 364.50 592.60 Q366.70 591.80 367.50 593.00 C367.90 598.30 365.70 601.80 362.00 601.80 L350.50 601.80 C346.80 601.80 344.60 598.30 345.00 593.00 Z" fill="#2e2e2e" filter="url(#bl)"/>
<rect x="349.00" y="595.56" width="14.50" height="2.88" rx="1.5" fill="#4a4a4a" opacity="0.3" filter="url(#bl2)"/>
<path d="M370.00 593.00 Q370.80 591.80 373.00 592.60 Q378.75 592.52 384.50 592.60 Q386.70 591.80 387.50 593.00 C387.90 598.30 385.70 601.80 382.00 601.80 L375.50 601.80 C371.80 601.80 369.60 598.30 370.00 593.00 Z" fill="#2e2e2e" filter="url(#bl)"/>
<rect x="374.00" y="595.56" width="9.50" height="2.88" rx="1.5" fill="#4a4a4a" opacity="0.3" filter="url(#bl2)"/>
<path d="M390.00 593.00 Q390.80 591.80 393.00 592.60 Q399.75 592.52 406.50 592.60 Q408.70 591.80 409.50 593.00 C409.90 598.30 407.70 601.80 404.00 601.80 L395.50 601.80 C391.80 601.80 389.60 598.30 390.00 593.00 Z" fill="#2e2e2e" filter="url(#bl)"/>
<rect x="394.00" y="595.56" width="11.50" height="2.88" rx="1.5" fill="#4a4a4a" opacity="0.3" filter="url(#bl2)"/>
<path d="M417.50 593.00 Q418.30 591.80 420.50 592.60 Q426.50 592.52 432.50 592.60 Q434.70 591.80 435.50 593.00 C435.90 598.30 433.70 601.80 430.00 601.80 L423.00 601.80 C419.30 601.80 417.10 598.30 417.50 593.00 Z" fill="#2e2e2e" filter="url(#bl)"/>
<rect x="421.50" y="595.56" width="10.00" height="2.88" rx="1.5" fill="#4a4a4a" opacity="0.3" filter="url(#bl2)"/>
<path d="M437.50 593.00 Q438.30 591.80 440.50 592.60 Q446.25 592.52 452.00 592.60 Q454.20 591.80 455.00 593.00 C455.40 598.30 453.20 601.80 449.50 601.80 L443.00 601.80 C439.30 601.80 437.10 598.30 437.50 593.00 Z" fill="#2e2e2e" filter="url(#bl)"/>
<rect x="441.50" y="595.56" width="9.50" height="2.88" rx="1.5" fill="#4a4a4a" opacity="0.3" filter="url(#bl2)"/>
<rect x="343.30" y="611.30" width="67.20" height="16.70" fill="#d6d6d6" />
<rect x="415.00" y="611.30" width="42.00" height="16.70" fill="#d6d6d6" />
<rect x="352.50" y="618.40" width="12.50" height="2.20" rx="1.00" fill="#777" opacity="0.8" filter="url(#bl)"/>
<rect x="371.30" y="617.90" width="16.20" height="3.20" rx="1.45" fill="#333" opacity="1" filter="url(#bl)"/>
<rect x="389.50" y="616.60" width="18.50" height="5.20" rx="2.36" fill="#2a2a2a" opacity="1" filter="url(#bl)"/>
<rect x="434.50" y="619.55" width="18.00" height="5.50" rx="2.50" fill="#2a2a2a" opacity="1" filter="url(#bl)"/>
<text x="461.30" y="603.00" font-size="11.6" textLength="34.50" lengthAdjust="spacingAndGlyphs">Hsp90</text>
<text x="461.30" y="625.30" font-size="11.6" textLength="48.70" lengthAdjust="spacingAndGlyphs">Pafah1b3</text>
<text x="342.00" y="651.50" font-size="11.5" text-anchor="end" textLength="42.50" lengthAdjust="spacingAndGlyphs">isogenic</text>
<text x="342.00" y="665.00" font-size="11.5" text-anchor="end" textLength="20.80" lengthAdjust="spacingAndGlyphs">line:</text>
<text x="389.00" y="636.50" font-size="12" text-anchor="end" transform="rotate(-45 389.00 636.50)">WT -cDNA</text>
<text x="412.50" y="636.50" font-size="12" text-anchor="end" transform="rotate(-45 412.50 636.50)">WT +cDNA</text>
<text x="436.50" y="636.50" font-size="12" text-anchor="end" transform="rotate(-45 436.50 636.50)">KO -cDNA</text>
<text x="456.50" y="636.50" font-size="12" text-anchor="end" transform="rotate(-45 456.50 636.50)">KO +cDNA</text>
<text x="10.00" y="752.50" font-size="16.8" font-weight="bold" fill="#000">F</text>
<text x="126.3" y="767" font-size="10.3" textLength="273.7" lengthAdjust="spacingAndGlyphs">In vivo GFP competition of <tspan font-style="italic">Pafah1b3</tspan> cDNA on SCCs</text>
<line x1="108.80" y1="775.00" x2="108.80" y2="904.15" stroke="#000" stroke-width="1.9"/>
<line x1="102.80" y1="780.00" x2="108.80" y2="780.00" stroke="#000" stroke-width="1.9"/>
<text x="97.50" y="783.90" font-size="11" text-anchor="end">2.0</text>
<line x1="102.80" y1="810.50" x2="108.80" y2="810.50" stroke="#000" stroke-width="1.9"/>
<text x="97.50" y="814.40" font-size="11" text-anchor="end">1.5</text>
<line x1="102.80" y1="841.30" x2="108.80" y2="841.30" stroke="#000" stroke-width="1.9"/>
<text x="97.50" y="845.20" font-size="11" text-anchor="end">1.0</text>
<line x1="102.80" y1="872.00" x2="108.80" y2="872.00" stroke="#000" stroke-width="1.9"/>
<text x="97.50" y="875.90" font-size="11" text-anchor="end">0.5</text>
<line x1="102.80" y1="903.20" x2="108.80" y2="903.20" stroke="#000" stroke-width="1.9"/>
<text x="97.50" y="907.10" font-size="11" text-anchor="end">0.0</text>
<line x1="108.80" y1="903.20" x2="417.50" y2="903.20" stroke="#000" stroke-width="1.9"/>
<line x1="113.80" y1="903.20" x2="113.80" y2="908.20" stroke="#000" stroke-width="1.9"/>
<line x1="123.50" y1="903.20" x2="123.50" y2="908.20" stroke="#000" stroke-width="1.9"/>
<line x1="139.30" y1="903.20" x2="139.30" y2="908.20" stroke="#000" stroke-width="1.9"/>
<line x1="148.80" y1="903.20" x2="148.80" y2="908.20" stroke="#000" stroke-width="1.9"/>
<line x1="164.50" y1="903.20" x2="164.50" y2="908.20" stroke="#000" stroke-width="1.9"/>
<line x1="174.30" y1="903.20" x2="174.30" y2="908.20" stroke="#000" stroke-width="1.9"/>
<line x1="189.50" y1="903.20" x2="189.50" y2="908.20" stroke="#000" stroke-width="1.9"/>
<line x1="199.30" y1="903.20" x2="199.30" y2="908.20" stroke="#000" stroke-width="1.9"/>
<line x1="218.80" y1="903.20" x2="218.80" y2="908.20" stroke="#000" stroke-width="1.9"/>
<line x1="228.20" y1="903.20" x2="228.20" y2="908.20" stroke="#000" stroke-width="1.9"/>
<line x1="244.00" y1="903.20" x2="244.00" y2="908.20" stroke="#000" stroke-width="1.9"/>
<line x1="253.20" y1="903.20" x2="253.20" y2="908.20" stroke="#000" stroke-width="1.9"/>
<line x1="268.80" y1="903.20" x2="268.80" y2="908.20" stroke="#000" stroke-width="1.9"/>
<line x1="278.80" y1="903.20" x2="278.80" y2="908.20" stroke="#000" stroke-width="1.9"/>
<line x1="293.80" y1="903.20" x2="293.80" y2="908.20" stroke="#000" stroke-width="1.9"/>
<line x1="303.50" y1="903.20" x2="303.50" y2="908.20" stroke="#000" stroke-width="1.9"/>
<line x1="323.80" y1="903.20" x2="323.80" y2="908.20" stroke="#000" stroke-width="1.9"/>
<line x1="333.20" y1="903.20" x2="333.20" y2="908.20" stroke="#000" stroke-width="1.9"/>
<line x1="348.80" y1="903.20" x2="348.80" y2="908.20" stroke="#000" stroke-width="1.9"/>
<line x1="358.30" y1="903.20" x2="358.30" y2="908.20" stroke="#000" stroke-width="1.9"/>
<line x1="374.30" y1="903.20" x2="374.30" y2="908.20" stroke="#000" stroke-width="1.9"/>
<line x1="383.50" y1="903.20" x2="383.50" y2="908.20" stroke="#000" stroke-width="1.9"/>
<line x1="399.30" y1="903.20" x2="399.30" y2="908.20" stroke="#000" stroke-width="1.9"/>
<line x1="408.80" y1="903.20" x2="408.80" y2="908.20" stroke="#000" stroke-width="1.9"/>
<text x="56.5" y="838.5" font-size="13" text-anchor="middle" textLength="102" lengthAdjust="spacingAndGlyphs" transform="rotate(-90 56.5 838.5)" stroke="#2a2a2a" stroke-width="0.3">Fold change in % cDNA</text>
<text x="72.5" y="838.5" font-size="13" text-anchor="middle" textLength="67.7" lengthAdjust="spacingAndGlyphs" transform="rotate(-90 72.5 838.5)" stroke="#2a2a2a" stroke-width="0.3">expressing cells</text>
<line x1="209.50" y1="777.00" x2="209.50" y2="902.00" stroke="#000" stroke-width="1.4" stroke-dasharray="1.1 1.2"/>
<line x1="314.30" y1="777.00" x2="314.30" y2="902.00" stroke="#000" stroke-width="1.4" stroke-dasharray="1.1 1.2"/>
<rect x="111.50" y="839.00" width="4.60" height="4.60" fill="#545a66" stroke="#2e3138" stroke-width="0.6"/>
<line x1="109.30" y1="841.30" x2="118.30" y2="841.30" stroke="#000" stroke-width="1.8"/>
<line x1="123.80" y1="836.00" x2="123.80" y2="845.00" stroke="#3a3e47" stroke-width="1.7"/>
<circle cx="123.80" cy="834.50" r="2.30" fill="#545a66" stroke="#2e3138" stroke-width="0.6"/>
<line x1="121.30" y1="836.00" x2="126.30" y2="836.00" stroke="#3a3e47" stroke-width="1.4"/>
<line x1="121.30" y1="845.00" x2="126.30" y2="845.00" stroke="#3a3e47" stroke-width="1.4"/>
<line x1="119.30" y1="841.30" x2="128.30" y2="841.30" stroke="#000" stroke-width="1.8"/>
<rect x="121.50" y="843.20" width="4.60" height="4.60" fill="#545a66" stroke="#2e3138" stroke-width="0.6"/>
<line x1="139.30" y1="848.00" x2="139.30" y2="855.00" stroke="#293e5b" stroke-width="1.7"/>
<rect x="137.00" y="844.20" width="4.60" height="4.60" fill="#3b5a82" stroke="#203147" stroke-width="0.6"/>
<rect x="137.00" y="847.70" width="4.60" height="4.60" fill="#3b5a82" stroke="#203147" stroke-width="0.6"/>
<rect x="137.00" y="851.20" width="4.60" height="4.60" fill="#3b5a82" stroke="#203147" stroke-width="0.6"/>
<line x1="136.80" y1="848.00" x2="141.80" y2="848.00" stroke="#293e5b" stroke-width="1.4"/>
<line x1="136.80" y1="855.00" x2="141.80" y2="855.00" stroke="#293e5b" stroke-width="1.4"/>
<line x1="134.80" y1="852.00" x2="143.80" y2="852.00" stroke="#000" stroke-width="1.8"/>
<line x1="149.30" y1="818.00" x2="149.30" y2="829.00" stroke="#293e5b" stroke-width="1.7"/>
<circle cx="149.30" cy="818.50" r="2.30" fill="#3b5a82" stroke="#203147" stroke-width="0.6"/>
<circle cx="149.30" cy="824.00" r="2.30" fill="#3b5a82" stroke="#203147" stroke-width="0.6"/>
<circle cx="149.30" cy="829.50" r="2.30" fill="#3b5a82" stroke="#203147" stroke-width="0.6"/>
<line x1="146.80" y1="818.00" x2="151.80" y2="818.00" stroke="#293e5b" stroke-width="1.4"/>
<line x1="146.80" y1="829.00" x2="151.80" y2="829.00" stroke="#293e5b" stroke-width="1.4"/>
<line x1="144.80" y1="823.00" x2="153.80" y2="823.00" stroke="#000" stroke-width="1.8"/>
<rect x="161.50" y="838.30" width="6.00" height="6.00" fill="#545a66" stroke="#2e3138" stroke-width="0.6"/>
<line x1="159.50" y1="841.30" x2="169.50" y2="841.30" stroke="#000" stroke-width="1.8"/>
<circle cx="173.80" cy="841.30" r="3.20" fill="#545a66" stroke="#2e3138" stroke-width="0.6"/>
<line x1="168.80" y1="841.30" x2="178.80" y2="841.30" stroke="#000" stroke-width="1.8"/>
<line x1="189.50" y1="845.00" x2="189.50" y2="852.50" stroke="#331541" stroke-width="1.7"/>
<rect x="187.20" y="843.20" width="4.60" height="4.60" fill="#4a1e5e" stroke="#281033" stroke-width="0.6"/>
<rect x="187.20" y="847.20" width="4.60" height="4.60" fill="#4a1e5e" stroke="#281033" stroke-width="0.6"/>
<line x1="187.00" y1="845.00" x2="192.00" y2="845.00" stroke="#331541" stroke-width="1.4"/>
<line x1="187.00" y1="852.50" x2="192.00" y2="852.50" stroke="#331541" stroke-width="1.4"/>
<line x1="185.00" y1="848.80" x2="194.00" y2="848.80" stroke="#000" stroke-width="1.8"/>
<line x1="200.00" y1="808.80" x2="200.00" y2="835.50" stroke="#331541" stroke-width="1.7"/>
<circle cx="200.00" cy="812.50" r="2.40" fill="#4a1e5e" stroke="#281033" stroke-width="0.6"/>
<circle cx="200.00" cy="841.30" r="2.40" fill="#4a1e5e" stroke="#281033" stroke-width="0.6"/>
<line x1="197.50" y1="808.80" x2="202.50" y2="808.80" stroke="#331541" stroke-width="1.4"/>
<line x1="197.50" y1="835.50" x2="202.50" y2="835.50" stroke="#331541" stroke-width="1.4"/>
<line x1="195.50" y1="821.00" x2="204.50" y2="821.00" stroke="#000" stroke-width="1.8"/>
<path d="M200.00 814.43 L202.86 819.57 L197.14 819.57Z" fill="#4a1e5e"/>
<rect x="216.30" y="838.80" width="5.00" height="5.00" fill="#8a8a8a" stroke="#757575" stroke-width="0.6"/>
<line x1="212.50" y1="841.30" x2="224.50" y2="841.30" stroke="#000" stroke-width="1.5" stroke-dasharray="1.2 1.1"/>
<line x1="228.80" y1="834.00" x2="228.80" y2="850.00" stroke="#606060" stroke-width="1.7"/>
<rect x="226.30" y="830.00" width="5.00" height="5.00" fill="#8a8a8a" stroke="#757575" stroke-width="0.6"/>
<rect x="226.30" y="834.50" width="5.00" height="5.00" fill="#8a8a8a" stroke="#757575" stroke-width="0.6"/>
<line x1="226.30" y1="834.00" x2="231.30" y2="834.00" stroke="#606060" stroke-width="1.4"/>
<line x1="226.30" y1="850.00" x2="231.30" y2="850.00" stroke="#606060" stroke-width="1.4"/>
<line x1="224.30" y1="841.30" x2="233.30" y2="841.30" stroke="#000" stroke-width="1.8"/>
<circle cx="228.80" cy="851.50" r="2.50" fill="#8a8a8a" stroke="#757575" stroke-width="0.6"/>
<rect x="241.40" y="846.10" width="4.80" height="4.80" fill="#5ea6de" stroke="#4f8dbc" stroke-width="0.6"/>
<rect x="241.40" y="849.60" width="4.80" height="4.80" fill="#5ea6de" stroke="#4f8dbc" stroke-width="0.6"/>
<rect x="241.40" y="853.10" width="4.80" height="4.80" fill="#5ea6de" stroke="#4f8dbc" stroke-width="0.6"/>
<line x1="240.30" y1="852.00" x2="247.30" y2="852.00" stroke="#000" stroke-width="1.8"/>
<line x1="253.80" y1="809.00" x2="253.80" y2="832.00" stroke="#41749b" stroke-width="1.7"/>
<circle cx="253.80" cy="809.00" r="2.50" fill="#5ea6de" stroke="#4f8dbc" stroke-width="0.6"/>
<circle cx="253.80" cy="821.00" r="2.50" fill="#5ea6de" stroke="#4f8dbc" stroke-width="0.6"/>
<circle cx="253.80" cy="832.00" r="2.50" fill="#5ea6de" stroke="#4f8dbc" stroke-width="0.6"/>
<line x1="253.70" y1="809.00" x2="253.90" y2="809.00" stroke="#41749b" stroke-width="1.4"/>
<line x1="253.70" y1="832.00" x2="253.90" y2="832.00" stroke="#41749b" stroke-width="1.4"/>
<line x1="250.30" y1="821.30" x2="257.30" y2="821.30" stroke="#000" stroke-width="1.8"/>
<rect x="266.80" y="834.80" width="5.40" height="5.40" fill="#8a8a8a" stroke="#757575" stroke-width="0.6"/>
<rect x="266.80" y="838.60" width="5.40" height="5.40" fill="#8a8a8a" stroke="#757575" stroke-width="0.6"/>
<rect x="266.80" y="842.30" width="5.40" height="5.40" fill="#8a8a8a" stroke="#757575" stroke-width="0.6"/>
<line x1="265.00" y1="841.30" x2="274.00" y2="841.30" stroke="#000" stroke-width="1.8"/>
<circle cx="279.50" cy="839.50" r="2.90" fill="#8a8a8a" stroke="#757575" stroke-width="0.6"/>
<circle cx="279.50" cy="843.00" r="2.90" fill="#8a8a8a" stroke="#757575" stroke-width="0.6"/>
<line x1="275.00" y1="841.30" x2="284.00" y2="841.30" stroke="#000" stroke-width="1.8"/>
<rect x="291.40" y="845.10" width="4.80" height="4.80" fill="#a3122f" stroke="#590919" stroke-width="0.6"/>
<rect x="291.40" y="848.60" width="4.80" height="4.80" fill="#a3122f" stroke="#590919" stroke-width="0.6"/>
<rect x="291.40" y="851.60" width="4.80" height="4.80" fill="#a3122f" stroke="#590919" stroke-width="0.6"/>
<line x1="290.30" y1="850.50" x2="297.30" y2="850.50" stroke="#000" stroke-width="1.8"/>
<line x1="304.50" y1="803.00" x2="304.50" y2="817.00" stroke="#720c20" stroke-width="1.7"/>
<circle cx="304.50" cy="800.50" r="2.40" fill="#a3122f" stroke="#590919" stroke-width="0.6"/>
<circle cx="304.50" cy="805.50" r="2.40" fill="#a3122f" stroke="#590919" stroke-width="0.6"/>
<circle cx="304.50" cy="814.50" r="2.40" fill="#a3122f" stroke="#590919" stroke-width="0.6"/>
<circle cx="304.50" cy="819.00" r="2.40" fill="#a3122f" stroke="#590919" stroke-width="0.6"/>
<line x1="302.00" y1="803.00" x2="307.00" y2="803.00" stroke="#720c20" stroke-width="1.4"/>
<line x1="302.00" y1="817.00" x2="307.00" y2="817.00" stroke="#720c20" stroke-width="1.4"/>
<line x1="300.00" y1="810.00" x2="309.00" y2="810.00" stroke="#000" stroke-width="1.8"/>
<rect x="321.10" y="838.60" width="5.40" height="5.40" fill="#b0b0b0" stroke="#959595" stroke-width="0.6"/>
<circle cx="333.80" cy="834.50" r="2.70" fill="#b0b0b0" stroke="#959595" stroke-width="0.6"/>
<circle cx="333.80" cy="845.50" r="2.70" fill="#b0b0b0" stroke="#959595" stroke-width="0.6"/>
<line x1="331.30" y1="841.30" x2="336.30" y2="841.30" stroke="#222" stroke-width="1.6"/>
<line x1="316.00" y1="841.30" x2="340.00" y2="841.30" stroke="#000" stroke-width="1.5" stroke-dasharray="1.2 1.1"/>
<line x1="348.80" y1="848.00" x2="348.80" y2="855.00" stroke="#204239" stroke-width="1.7"/>
<rect x="346.40" y="845.10" width="4.80" height="4.80" fill="#2f5f52" stroke="#19342d" stroke-width="0.6"/>
<rect x="346.40" y="848.60" width="4.80" height="4.80" fill="#2f5f52" stroke="#19342d" stroke-width="0.6"/>
<rect x="346.40" y="852.10" width="4.80" height="4.80" fill="#2f5f52" stroke="#19342d" stroke-width="0.6"/>
<line x1="346.30" y1="848.00" x2="351.30" y2="848.00" stroke="#204239" stroke-width="1.4"/>
<line x1="346.30" y1="855.00" x2="351.30" y2="855.00" stroke="#204239" stroke-width="1.4"/>
<line x1="344.30" y1="851.50" x2="353.30" y2="851.50" stroke="#000" stroke-width="1.8"/>
<line x1="358.80" y1="810.00" x2="358.80" y2="832.00" stroke="#204239" stroke-width="1.7"/>
<circle cx="358.80" cy="811.00" r="2.40" fill="#2f5f52" stroke="#19342d" stroke-width="0.6"/>
<circle cx="358.80" cy="815.50" r="2.40" fill="#2f5f52" stroke="#19342d" stroke-width="0.6"/>
<circle cx="358.80" cy="833.50" r="2.40" fill="#2f5f52" stroke="#19342d" stroke-width="0.6"/>
<line x1="356.30" y1="810.00" x2="361.30" y2="810.00" stroke="#204239" stroke-width="1.4"/>
<line x1="356.30" y1="832.00" x2="361.30" y2="832.00" stroke="#204239" stroke-width="1.4"/>
<line x1="354.30" y1="820.50" x2="363.30" y2="820.50" stroke="#000" stroke-width="1.8"/>
<path d="M358.80 819.02 L361.55 823.98 L356.05 823.98Z" fill="#2f5f52"/>
<rect x="371.70" y="838.50" width="5.60" height="5.60" fill="#b5b5b5" stroke="#999999" stroke-width="0.6"/>
<circle cx="384.50" cy="843.00" r="3.00" fill="#b5b5b5" stroke="#999999" stroke-width="0.6"/>
<circle cx="384.50" cy="835.50" r="2.20" fill="white" stroke="#b5b5b5" stroke-width="1.3"/>
<line x1="368.00" y1="841.30" x2="392.00" y2="841.30" stroke="#000" stroke-width="1.5" stroke-dasharray="1.2 1.1"/>
<rect x="396.50" y="845.20" width="4.60" height="4.60" fill="#6b4522" stroke="#3a2512" stroke-width="0.6"/>
<rect x="396.50" y="848.20" width="4.60" height="4.60" fill="#6b4522" stroke="#3a2512" stroke-width="0.6"/>
<rect x="396.50" y="850.70" width="4.60" height="4.60" fill="#6b4522" stroke="#3a2512" stroke-width="0.6"/>
<line x1="395.30" y1="850.00" x2="402.30" y2="850.00" stroke="#000" stroke-width="1.8"/>
<line x1="410.00" y1="805.00" x2="410.00" y2="835.50" stroke="#4a3017" stroke-width="1.7"/>
<circle cx="410.00" cy="805.50" r="2.40" fill="#6b4522" stroke="#3a2512" stroke-width="0.6"/>
<circle cx="410.00" cy="810.00" r="2.40" fill="#6b4522" stroke="#3a2512" stroke-width="0.6"/>
<line x1="407.50" y1="805.00" x2="412.50" y2="805.00" stroke="#4a3017" stroke-width="1.4"/>
<line x1="407.50" y1="835.50" x2="412.50" y2="835.50" stroke="#4a3017" stroke-width="1.4"/>
<line x1="405.50" y1="819.50" x2="414.50" y2="819.50" stroke="#000" stroke-width="1.8"/>
<path d="M410.00 812.52 L412.75 817.48 L407.25 817.48Z" fill="#6b4522"/>
<circle cx="410.00" cy="842.00" r="2.40" fill="#6b4522" stroke="#3a2512" stroke-width="0.6"/>
<path d="M113.80 828.00 V823.80 H124.30 V828.00" fill="none" stroke="#000" stroke-width="1.5"/>
<text x="119.40" y="819.80" font-size="10.5" text-anchor="middle" textLength="18.50" lengthAdjust="spacingAndGlyphs">N.S.</text>
<path d="M138.80 837.50 V807.50 H149.30 V812.50" fill="none" stroke="#000" stroke-width="1.5"/>
<text x="144" y="806.2" font-size="8" text-anchor="middle" textLength="11.5" lengthAdjust="spacing" stroke="#222" stroke-width="0.5">***</text>
<path d="M163.80 833.00 V828.80 H174.30 V833.00" fill="none" stroke="#000" stroke-width="1.5"/>
<text x="170.00" y="824.80" font-size="10.5" text-anchor="middle" textLength="20.00" lengthAdjust="spacingAndGlyphs">N.S.</text>
<path d="M190.00 834.60 V798.80 H200.00 V805.00" fill="none" stroke="#000" stroke-width="1.5"/>
<text x="195" y="796.2" font-size="8" text-anchor="middle" textLength="7.2" lengthAdjust="spacing" stroke="#222" stroke-width="0.5">**</text>
<path d="M217.50 827.30 V823.00 H228.80 V827.30" fill="none" stroke="#000" stroke-width="1.5"/>
<text x="222.80" y="818.80" font-size="10.5" text-anchor="middle" textLength="20.50" lengthAdjust="spacingAndGlyphs">N.S.</text>
<path d="M243.80 833.80 V798.80 H254.30 V803.80" fill="none" stroke="#000" stroke-width="1.5"/>
<text x="249.4" y="796.2" font-size="8" text-anchor="middle" textLength="11.3" lengthAdjust="spacing" stroke="#222" stroke-width="0.5">***</text>
<path d="M268.80 831.80 V827.50 H279.50 V831.80" fill="none" stroke="#000" stroke-width="1.5"/>
<text x="274.00" y="823.80" font-size="10.5" text-anchor="middle" textLength="19.50" lengthAdjust="spacingAndGlyphs">N.S.</text>
<path d="M294.50 832.50 V790.50 H304.50 V795.00" fill="none" stroke="#000" stroke-width="1.5"/>
<text x="300" y="788.7" font-size="8" text-anchor="middle" textLength="14" lengthAdjust="spacing" stroke="#222" stroke-width="0.5">****</text>
<path d="M323.80 828.80 V824.50 H334.30 V828.80" fill="none" stroke="#000" stroke-width="1.5"/>
<text x="329.10" y="820.80" font-size="10.5" text-anchor="middle" textLength="19.30" lengthAdjust="spacingAndGlyphs">N.S.</text>
<path d="M348.80 837.00 V801.30 H359.30 V806.30" fill="none" stroke="#000" stroke-width="1.5"/>
<text x="353.1" y="799.2" font-size="8" text-anchor="middle" textLength="11.3" lengthAdjust="spacing" stroke="#222" stroke-width="0.5">***</text>
<path d="M374.50 830.50 V826.30 H384.50 V830.50" fill="none" stroke="#000" stroke-width="1.5"/>
<text x="380.00" y="822.50" font-size="10.5" text-anchor="middle" textLength="20.00" lengthAdjust="spacingAndGlyphs">N.S.</text>
<path d="M399.50 831.30 V795.00 H410.00 V801.30" fill="none" stroke="#000" stroke-width="1.5"/>
<text x="405.4" y="793.7" font-size="8" text-anchor="middle" textLength="6.8" lengthAdjust="spacing" stroke="#222" stroke-width="0.5">**</text>
<text x="429" y="794.2" font-size="8" text-anchor="middle" textLength="6.3" lengthAdjust="spacing" stroke="#222" stroke-width="0.5">**</text>
<text x="435.00" y="795.20" font-size="10.3" textLength="40.60" lengthAdjust="spacingAndGlyphs">p &lt; 0.01</text>
<text x="431.2" y="805.5" font-size="8" text-anchor="middle" textLength="10.5" lengthAdjust="spacing" stroke="#222" stroke-width="0.5">***</text>
<text x="438.60" y="808.90" font-size="10.3" textLength="47.10" lengthAdjust="spacingAndGlyphs">p &lt; 0.001</text>
<text x="433.6" y="818.6" font-size="8" text-anchor="middle" textLength="15.4" lengthAdjust="spacing" stroke="#222" stroke-width="0.5">****</text>
<text x="442.80" y="821.60" font-size="10.3" textLength="53.50" lengthAdjust="spacingAndGlyphs">p &lt; 0.0001</text>
<rect x="113.40" y="914.60" width="1.80" height="1.40" fill="#333" />
<text x="123.80" y="919.04" font-size="11" text-anchor="middle" stroke="#2a2a2a" stroke-width="0.35">+</text>
<rect x="138.90" y="914.60" width="1.80" height="1.40" fill="#333" />
<text x="149.10" y="919.04" font-size="11" text-anchor="middle" stroke="#2a2a2a" stroke-width="0.35">+</text>
<rect x="164.10" y="914.60" width="1.80" height="1.40" fill="#333" />
<text x="174.60" y="919.04" font-size="11" text-anchor="middle" stroke="#2a2a2a" stroke-width="0.35">+</text>
<rect x="189.10" y="914.60" width="1.80" height="1.40" fill="#333" />
<text x="199.60" y="919.04" font-size="11" text-anchor="middle" stroke="#2a2a2a" stroke-width="0.35">+</text>
<rect x="218.40" y="914.60" width="1.80" height="1.40" fill="#333" />
<text x="228.50" y="919.04" font-size="11" text-anchor="middle" stroke="#2a2a2a" stroke-width="0.35">+</text>
<rect x="243.60" y="914.60" width="1.80" height="1.40" fill="#333" />
<text x="253.50" y="919.04" font-size="11" text-anchor="middle" stroke="#2a2a2a" stroke-width="0.35">+</text>
<rect x="268.40" y="914.60" width="1.80" height="1.40" fill="#333" />
<text x="279.10" y="919.04" font-size="11" text-anchor="middle" stroke="#2a2a2a" stroke-width="0.35">+</text>
<rect x="293.40" y="914.60" width="1.80" height="1.40" fill="#333" />
<text x="303.80" y="919.04" font-size="11" text-anchor="middle" stroke="#2a2a2a" stroke-width="0.35">+</text>
<rect x="323.40" y="914.60" width="1.80" height="1.40" fill="#333" />
<text x="333.50" y="919.04" font-size="11" text-anchor="middle" stroke="#2a2a2a" stroke-width="0.35">+</text>
<rect x="348.40" y="914.60" width="1.80" height="1.40" fill="#333" />
<text x="358.60" y="919.04" font-size="11" text-anchor="middle" stroke="#2a2a2a" stroke-width="0.35">+</text>
<rect x="373.90" y="914.60" width="1.80" height="1.40" fill="#333" />
<text x="383.80" y="919.04" font-size="11" text-anchor="middle" stroke="#2a2a2a" stroke-width="0.35">+</text>
<rect x="398.90" y="914.60" width="1.80" height="1.40" fill="#333" />
<text x="409.10" y="919.04" font-size="11" text-anchor="middle" stroke="#2a2a2a" stroke-width="0.35">+</text>
<line x1="109.50" y1="925.00" x2="127.50" y2="925.00" stroke="#111" stroke-width="1.5"/>
<line x1="135.00" y1="925.00" x2="153.30" y2="925.00" stroke="#111" stroke-width="1.5"/>
<line x1="160.00" y1="925.00" x2="178.00" y2="925.00" stroke="#111" stroke-width="1.5"/>
<line x1="184.50" y1="925.00" x2="202.50" y2="925.00" stroke="#111" stroke-width="1.5"/>
<line x1="213.80" y1="925.00" x2="232.00" y2="925.00" stroke="#111" stroke-width="1.5"/>
<line x1="239.50" y1="925.00" x2="258.00" y2="925.00" stroke="#111" stroke-width="1.5"/>
<line x1="264.50" y1="925.00" x2="282.50" y2="925.00" stroke="#111" stroke-width="1.5"/>
<line x1="288.80" y1="925.00" x2="307.50" y2="925.00" stroke="#111" stroke-width="1.5"/>
<line x1="318.80" y1="925.00" x2="337.50" y2="925.00" stroke="#111" stroke-width="1.5"/>
<line x1="344.50" y1="925.00" x2="362.50" y2="925.00" stroke="#111" stroke-width="1.5"/>
<line x1="369.50" y1="925.00" x2="387.50" y2="925.00" stroke="#111" stroke-width="1.5"/>
<line x1="393.80" y1="925.00" x2="411.80" y2="925.00" stroke="#111" stroke-width="1.5"/>
<text x="423.00" y="917.50" font-size="10" textLength="47.40" lengthAdjust="spacingAndGlyphs">- before tx</text>
<text x="424.20" y="930.00" font-size="10" textLength="41.60" lengthAdjust="spacingAndGlyphs">+ after tx</text>
<text x="124.00" y="934.00" font-size="11.3" text-anchor="end" transform="rotate(-45 124.00 934.00)">vector</text>
<text x="151.50" y="933.00" font-size="11.5" text-anchor="end" font-style="italic" transform="rotate(-45 151.50 933.00)">Pafah1b3</text>
<text x="173.50" y="934.00" font-size="11.3" text-anchor="end" transform="rotate(-45 173.50 934.00)">vector</text>
<text x="198.00" y="933.00" font-size="11.5" text-anchor="end" font-style="italic" transform="rotate(-45 198.00 933.00)">Pafah1b3</text>
<text x="228.80" y="934.00" font-size="11.3" text-anchor="end" transform="rotate(-45 228.80 934.00)">vector</text>
<text x="256.30" y="933.00" font-size="11.5" text-anchor="end" font-style="italic" transform="rotate(-45 256.30 933.00)">Pafah1b3</text>
<text x="278.30" y="934.00" font-size="11.3" text-anchor="end" transform="rotate(-45 278.30 934.00)">vector</text>
<text x="302.80" y="933.00" font-size="11.5" text-anchor="end" font-style="italic" transform="rotate(-45 302.80 933.00)">Pafah1b3</text>
<text x="333.80" y="934.00" font-size="11.3" text-anchor="end" transform="rotate(-45 333.80 934.00)">vector</text>
<text x="361.30" y="933.00" font-size="11.5" text-anchor="end" font-style="italic" transform="rotate(-45 361.30 933.00)">Pafah1b3</text>
<text x="383.30" y="934.00" font-size="11.3" text-anchor="end" transform="rotate(-45 383.30 934.00)">vector</text>
<text x="407.80" y="933.00" font-size="11.5" text-anchor="end" font-style="italic" transform="rotate(-45 407.80 933.00)">Pafah1b3</text>
<line x1="97.00" y1="969.50" x2="143.80" y2="969.50" stroke="#111" stroke-width="1.5"/>
<text x="120.40" y="984.00" font-size="11" text-anchor="middle" textLength="46.80" lengthAdjust="spacingAndGlyphs">WT SCC</text>
<line x1="150.00" y1="969.50" x2="196.30" y2="969.50" stroke="#111" stroke-width="1.5"/>
<text x="173.15" y="984.00" font-size="11" text-anchor="middle" textLength="46.30" lengthAdjust="spacingAndGlyphs">KO SCC</text>
<line x1="201.30" y1="969.50" x2="248.00" y2="969.50" stroke="#111" stroke-width="1.5"/>
<text x="224.65" y="984.00" font-size="11" text-anchor="middle" textLength="46.70" lengthAdjust="spacingAndGlyphs">WT SCC</text>
<line x1="257.50" y1="969.50" x2="303.80" y2="969.50" stroke="#111" stroke-width="1.5"/>
<text x="280.65" y="984.00" font-size="11" text-anchor="middle" textLength="46.30" lengthAdjust="spacingAndGlyphs">KO SCC</text>
<line x1="311.30" y1="969.50" x2="357.50" y2="969.50" stroke="#111" stroke-width="1.5"/>
<text x="334.40" y="984.00" font-size="11" text-anchor="middle" textLength="46.20" lengthAdjust="spacingAndGlyphs">WT SCC</text>
<line x1="364.50" y1="969.50" x2="410.00" y2="969.50" stroke="#111" stroke-width="1.5"/>
<text x="387.25" y="984.00" font-size="11" text-anchor="middle" textLength="45.50" lengthAdjust="spacingAndGlyphs">KO SCC</text>
<path d="M94.5 987.5 V992 H198.3 V987.5" fill="none" stroke="#111" stroke-width="1.3"/>
<text x="146.40" y="1006.50" font-size="11" text-anchor="middle" textLength="82.00" lengthAdjust="spacingAndGlyphs">peripheral blood</text>
<path d="M202 987.5 V992 H306.3 V987.5" fill="none" stroke="#111" stroke-width="1.3"/>
<text x="254.15" y="1006.50" font-size="11" text-anchor="middle" textLength="65.00" lengthAdjust="spacingAndGlyphs">bone marrow</text>
<path d="M309.5 987.5 V992 H413.8 V987.5" fill="none" stroke="#111" stroke-width="1.3"/>
<text x="361.65" y="1006.50" font-size="11" text-anchor="middle" textLength="32.30" lengthAdjust="spacingAndGlyphs">spleen</text>
<rect x="0.9" y="0.9" width="518.2" height="1017.2" fill="none" stroke="#000" stroke-width="1.8"/>
</svg>
</body></html>
